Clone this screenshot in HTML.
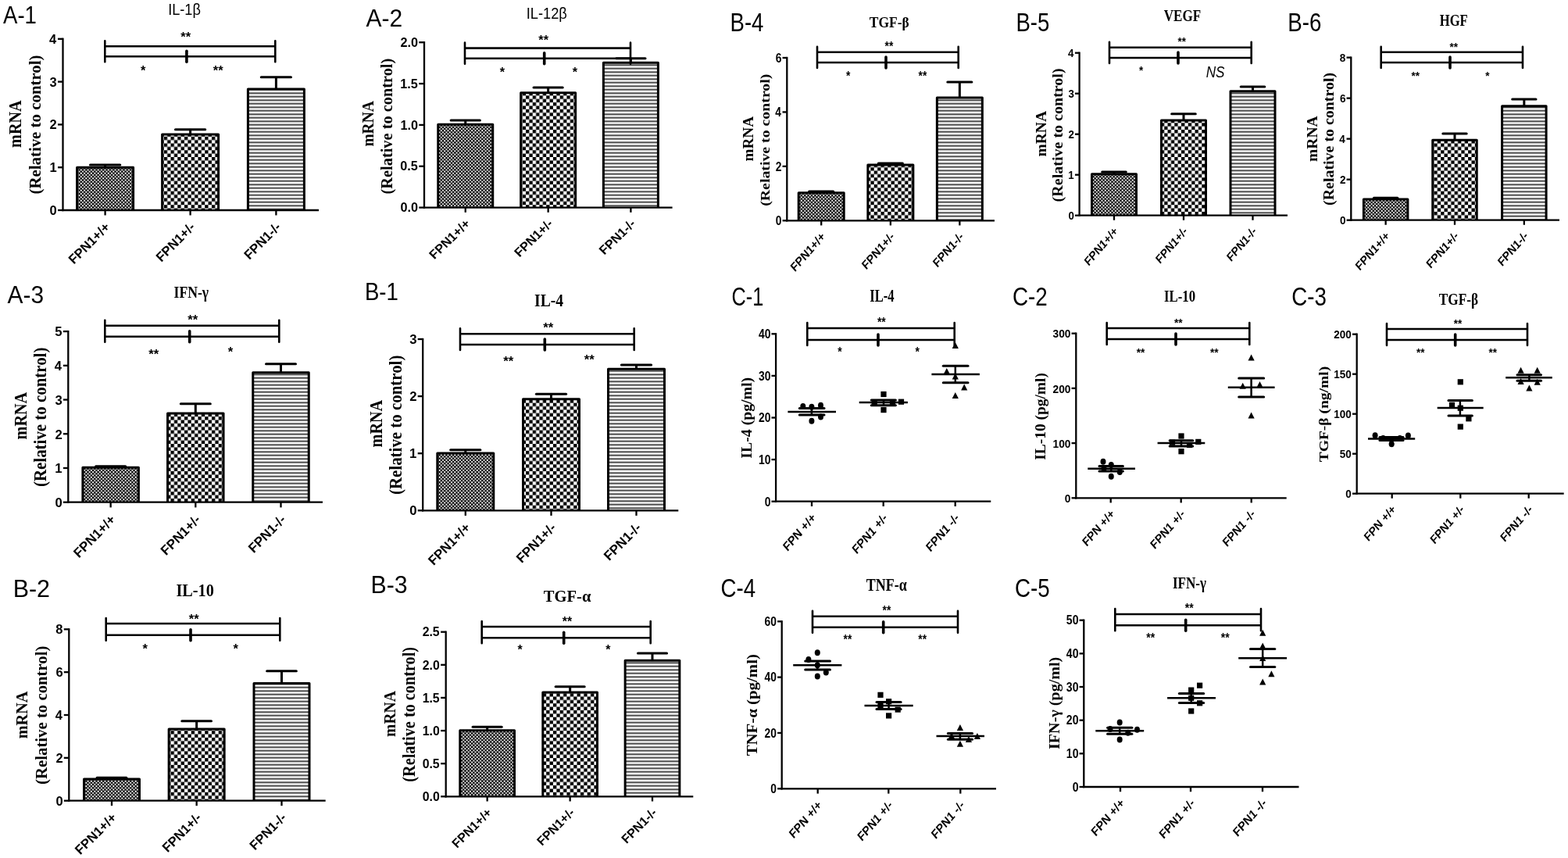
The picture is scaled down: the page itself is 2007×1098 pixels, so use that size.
<!DOCTYPE html>
<html><head><meta charset="utf-8"><title>Figure</title>
<style>html,body{margin:0;padding:0;background:#fff;width:2007px;height:1098px;overflow:hidden}svg{display:block}</style>
</head><body>
<svg width="2007" height="1098" viewBox="0 0 2007 1098"><defs>
<pattern id="pdots" patternUnits="userSpaceOnUse" width="4.37" height="4.37">
 <rect width="4.37" height="4.37" fill="#000"/>
 <circle cx="1.09" cy="1.09" r="1.1" fill="#fff"/><circle cx="3.28" cy="3.28" r="1.1" fill="#fff"/>
</pattern>
<pattern id="pcheck" patternUnits="userSpaceOnUse" width="8.74" height="8.74">
 <rect width="8.74" height="8.74" fill="#fff"/>
 <rect width="4.37" height="4.37" fill="#000"/><rect x="4.37" y="4.37" width="4.37" height="4.37" fill="#000"/>
</pattern>
<pattern id="pstripe" patternUnits="userSpaceOnUse" width="10" height="4.5">
 <rect width="10" height="4.5" fill="#fff"/>
 <rect y="1.3" width="10" height="1.9" fill="#3a3a3a"/>
</pattern>
</defs>
<text transform="translate(4.00,30.20) scale(0.8583,1)" style="font-family:'Liberation Sans',sans-serif;font-size:32.17px" fill="#000">A-1</text>
<text transform="translate(215.16,19.49) scale(0.8853,1)" style="font-family:'Liberation Sans',sans-serif;font-size:20.53px" fill="#000">IL-1β</text>
<text transform="translate(27.07,188.90) rotate(-90) scale(0.8840,1)" style="font-family:'Liberation Serif',serif;font-weight:bold;font-size:22.84px" fill="#000">mRNA</text>
<text transform="translate(51.99,248.54) rotate(-90) scale(0.9753,1)" style="font-family:'Liberation Serif',serif;font-weight:bold;font-size:21.41px" fill="#000">(Relative to control)</text>
<rect x="98.60" y="214.20" width="72.00" height="54.80" fill="url(#pdots)"/>
<path d="M98.60,269.00 L98.60,214.20 L170.60,214.20 L170.60,269.00" fill="none" stroke="#000" stroke-width="3" stroke-linejoin="round"/>
<line x1="134.60" y1="214.20" x2="134.60" y2="211.02" stroke="#000" stroke-width="3" stroke-linecap="butt"/>
<line x1="115.47" y1="211.02" x2="153.72" y2="211.02" stroke="#000" stroke-width="3" stroke-linecap="round"/>
<rect x="207.60" y="172.00" width="72.00" height="97.00" fill="url(#pcheck)"/>
<path d="M207.60,269.00 L207.60,172.00 L279.60,172.00 L279.60,269.00" fill="none" stroke="#000" stroke-width="3" stroke-linejoin="round"/>
<line x1="243.60" y1="172.00" x2="243.60" y2="165.70" stroke="#000" stroke-width="3" stroke-linecap="butt"/>
<line x1="224.47" y1="165.70" x2="262.73" y2="165.70" stroke="#000" stroke-width="3" stroke-linecap="round"/>
<rect x="317.40" y="113.92" width="72.00" height="155.08" fill="url(#pstripe)"/>
<path d="M317.40,269.00 L317.40,113.92 L389.40,113.92 L389.40,269.00" fill="none" stroke="#000" stroke-width="3" stroke-linejoin="round"/>
<line x1="353.40" y1="113.92" x2="353.40" y2="98.68" stroke="#000" stroke-width="3" stroke-linecap="butt"/>
<line x1="334.27" y1="98.68" x2="372.52" y2="98.68" stroke="#000" stroke-width="3" stroke-linecap="round"/>
<line x1="80.50" y1="48.65" x2="80.50" y2="270.15" stroke="#000" stroke-width="2.3" stroke-linecap="butt"/>
<line x1="79.35" y1="269.00" x2="408.00" y2="269.00" stroke="#000" stroke-width="2.3" stroke-linecap="butt"/>
<line x1="74.00" y1="269.00" x2="80.50" y2="269.00" stroke="#000" stroke-width="2.3" stroke-linecap="butt"/>
<text transform="translate(63.62,274.99)" style="font-family:'Liberation Sans',sans-serif;font-weight:bold;font-size:16.50px" fill="#000">0</text>
<line x1="74.00" y1="214.20" x2="80.50" y2="214.20" stroke="#000" stroke-width="2.3" stroke-linecap="butt"/>
<text transform="translate(63.45,220.19)" style="font-family:'Liberation Sans',sans-serif;font-weight:bold;font-size:16.50px" fill="#000">1</text>
<line x1="74.00" y1="159.40" x2="80.50" y2="159.40" stroke="#000" stroke-width="2.3" stroke-linecap="butt"/>
<text transform="translate(63.62,165.48)" style="font-family:'Liberation Sans',sans-serif;font-weight:bold;font-size:16.50px" fill="#000">2</text>
<line x1="74.00" y1="104.60" x2="80.50" y2="104.60" stroke="#000" stroke-width="2.3" stroke-linecap="butt"/>
<text transform="translate(63.62,110.59)" style="font-family:'Liberation Sans',sans-serif;font-weight:bold;font-size:16.50px" fill="#000">3</text>
<line x1="74.00" y1="49.80" x2="80.50" y2="49.80" stroke="#000" stroke-width="2.3" stroke-linecap="butt"/>
<text transform="translate(62.96,55.79)" style="font-family:'Liberation Sans',sans-serif;font-weight:bold;font-size:16.50px" fill="#000">4</text>
<line x1="134.60" y1="269.00" x2="134.60" y2="275.50" stroke="#000" stroke-width="2.3" stroke-linecap="butt"/>
<line x1="243.60" y1="269.00" x2="243.60" y2="275.50" stroke="#000" stroke-width="2.3" stroke-linecap="butt"/>
<line x1="353.40" y1="269.00" x2="353.40" y2="275.50" stroke="#000" stroke-width="2.3" stroke-linecap="butt"/>
<path d="M134.3,52.3 L134.3,79.3 M134.3,59.3 L352.3,59.3 M134.3,72.3 L352.3,72.3 M352.3,52.3 L352.3,79.3" stroke="#000" stroke-width="2.6" stroke-linecap="round" stroke-linejoin="round" fill="none"/>
<path d="M238.9,65.3 L238.9,79.3" stroke="#000" stroke-width="3.6" stroke-linecap="round" stroke-linejoin="round" fill="none"/>
<text transform="translate(231.27,53.15)" style="font-family:'Liberation Sans',sans-serif;font-weight:bold;font-size:16.50px" fill="#000">**</text>
<text transform="translate(180.08,96.15)" style="font-family:'Liberation Sans',sans-serif;font-weight:bold;font-size:16.50px" fill="#000">*</text>
<text transform="translate(272.77,96.15)" style="font-family:'Liberation Sans',sans-serif;font-weight:bold;font-size:16.50px" fill="#000">**</text>
<text transform="translate(94.44,338.85) rotate(-45)" style="font-family:'Liberation Sans',sans-serif;font-weight:bold;font-size:16.70px" fill="#000">FPN1+/+</text>
<text transform="translate(206.39,335.90) rotate(-45)" style="font-family:'Liberation Sans',sans-serif;font-weight:bold;font-size:16.70px" fill="#000">FPN1+/-</text>
<text transform="translate(319.15,332.93) rotate(-45)" style="font-family:'Liberation Sans',sans-serif;font-weight:bold;font-size:16.70px" fill="#000">FPN1-/-</text>
<text transform="translate(468.60,34.30) scale(0.9545,1)" style="font-family:'Liberation Sans',sans-serif;font-size:31.43px" fill="#000">A-2</text>
<text transform="translate(673.65,24.19) scale(0.8905,1)" style="font-family:'Liberation Sans',sans-serif;font-size:20.53px" fill="#000">IL-12β</text>
<text transform="translate(477.79,187.59) rotate(-90) scale(0.9048,1)" style="font-family:'Liberation Serif',serif;font-weight:bold;font-size:21.49px" fill="#000">mRNA</text>
<text transform="translate(501.96,248.41) rotate(-90) scale(0.9860,1)" style="font-family:'Liberation Serif',serif;font-weight:bold;font-size:20.65px" fill="#000">(Relative to control)</text>
<rect x="560.75" y="159.30" width="70.00" height="106.30" fill="url(#pdots)"/>
<path d="M560.75,265.60 L560.75,159.30 L630.75,159.30 L630.75,265.60" fill="none" stroke="#000" stroke-width="3" stroke-linejoin="round"/>
<line x1="595.75" y1="159.30" x2="595.75" y2="153.98" stroke="#000" stroke-width="3" stroke-linecap="butt"/>
<line x1="577.13" y1="153.98" x2="614.37" y2="153.98" stroke="#000" stroke-width="3" stroke-linecap="round"/>
<rect x="666.65" y="118.70" width="70.00" height="146.90" fill="url(#pcheck)"/>
<path d="M666.65,265.60 L666.65,118.70 L736.65,118.70 L736.65,265.60" fill="none" stroke="#000" stroke-width="3" stroke-linejoin="round"/>
<line x1="701.65" y1="118.70" x2="701.65" y2="112.00" stroke="#000" stroke-width="3" stroke-linecap="butt"/>
<line x1="683.03" y1="112.00" x2="720.26" y2="112.00" stroke="#000" stroke-width="3" stroke-linecap="round"/>
<rect x="772.40" y="80.32" width="70.00" height="185.28" fill="url(#pstripe)"/>
<path d="M772.40,265.60 L772.40,80.32 L842.40,80.32 L842.40,265.60" fill="none" stroke="#000" stroke-width="3" stroke-linejoin="round"/>
<line x1="807.40" y1="80.32" x2="807.40" y2="74.79" stroke="#000" stroke-width="3" stroke-linecap="butt"/>
<line x1="788.78" y1="74.79" x2="826.01" y2="74.79" stroke="#000" stroke-width="3" stroke-linecap="round"/>
<line x1="543.00" y1="53.05" x2="543.00" y2="266.75" stroke="#000" stroke-width="2.3" stroke-linecap="butt"/>
<line x1="541.85" y1="265.60" x2="860.60" y2="265.60" stroke="#000" stroke-width="2.3" stroke-linecap="butt"/>
<line x1="536.30" y1="265.60" x2="543.00" y2="265.60" stroke="#000" stroke-width="2.3" stroke-linecap="butt"/>
<text transform="translate(512.41,271.34) scale(1.0300,1)" style="font-family:'Liberation Sans',sans-serif;font-weight:bold;font-size:15.81px" fill="#000">0.0</text>
<line x1="536.30" y1="212.75" x2="543.00" y2="212.75" stroke="#000" stroke-width="2.3" stroke-linecap="butt"/>
<text transform="translate(512.24,218.49) scale(1.0300,1)" style="font-family:'Liberation Sans',sans-serif;font-weight:bold;font-size:15.81px" fill="#000">0.5</text>
<line x1="536.30" y1="159.90" x2="543.00" y2="159.90" stroke="#000" stroke-width="2.3" stroke-linecap="butt"/>
<text transform="translate(512.41,165.64) scale(1.0300,1)" style="font-family:'Liberation Sans',sans-serif;font-weight:bold;font-size:15.81px" fill="#000">1.0</text>
<line x1="536.30" y1="107.05" x2="543.00" y2="107.05" stroke="#000" stroke-width="2.3" stroke-linecap="butt"/>
<text transform="translate(512.24,112.71) scale(1.0300,1)" style="font-family:'Liberation Sans',sans-serif;font-weight:bold;font-size:15.81px" fill="#000">1.5</text>
<line x1="536.30" y1="54.20" x2="543.00" y2="54.20" stroke="#000" stroke-width="2.3" stroke-linecap="butt"/>
<text transform="translate(512.41,59.94) scale(1.0300,1)" style="font-family:'Liberation Sans',sans-serif;font-weight:bold;font-size:15.81px" fill="#000">2.0</text>
<line x1="595.75" y1="265.60" x2="595.75" y2="271.83" stroke="#000" stroke-width="2.3" stroke-linecap="butt"/>
<line x1="701.65" y1="265.60" x2="701.65" y2="271.83" stroke="#000" stroke-width="2.3" stroke-linecap="butt"/>
<line x1="807.40" y1="265.60" x2="807.40" y2="271.83" stroke="#000" stroke-width="2.3" stroke-linecap="butt"/>
<path d="M595,54.6 L595,81.8 M595,61.6 L807,61.6 M595,74.8 L807,74.8 M807,54.6 L807,81.8" stroke="#000" stroke-width="2.6" stroke-linecap="round" stroke-linejoin="round" fill="none"/>
<path d="M696.7,67.8 L696.7,81.8" stroke="#000" stroke-width="3.6" stroke-linecap="round" stroke-linejoin="round" fill="none"/>
<text transform="translate(689.36,56.90) scale(1.0300,1)" style="font-family:'Liberation Sans',sans-serif;font-weight:bold;font-size:15.81px" fill="#000">**</text>
<text transform="translate(639.83,97.90) scale(1.0300,1)" style="font-family:'Liberation Sans',sans-serif;font-weight:bold;font-size:15.81px" fill="#000">*</text>
<text transform="translate(732.83,97.90) scale(1.0300,1)" style="font-family:'Liberation Sans',sans-serif;font-weight:bold;font-size:15.81px" fill="#000">*</text>
<text transform="translate(556.12,332.51) scale(1.0300,1) rotate(-45)" style="font-family:'Liberation Sans',sans-serif;font-weight:bold;font-size:16.00px" fill="#000">FPN1+/+</text>
<text transform="translate(664.93,329.69) scale(1.0300,1) rotate(-45)" style="font-family:'Liberation Sans',sans-serif;font-weight:bold;font-size:16.00px" fill="#000">FPN1+/-</text>
<text transform="translate(773.61,326.85) scale(1.0300,1) rotate(-45)" style="font-family:'Liberation Sans',sans-serif;font-weight:bold;font-size:16.00px" fill="#000">FPN1-/-</text>
<text transform="translate(934.49,40.40) scale(0.8288,1)" style="font-family:'Liberation Sans',sans-serif;font-size:33.29px" fill="#000">B-4</text>
<text transform="translate(1112.73,35.37) scale(0.8883,1)" style="font-family:'Liberation Serif',serif;font-weight:bold;font-size:19.67px" fill="#000">TGF-β</text>
<text transform="translate(964.02,206.58) rotate(-90) scale(1.0483,1)" style="font-family:'Liberation Serif',serif;font-weight:bold;font-size:18.36px" fill="#000">mRNA</text>
<text transform="translate(984.90,263.79) rotate(-90) scale(1.1187,1)" style="font-family:'Liberation Serif',serif;font-weight:bold;font-size:17.72px" fill="#000">(Relative to control)</text>
<rect x="1022.20" y="246.71" width="58.00" height="35.59" fill="url(#pdots)"/>
<path d="M1022.20,282.30 L1022.20,246.71 L1080.20,246.71 L1080.20,282.30" fill="none" stroke="#000" stroke-width="3" stroke-linejoin="round"/>
<line x1="1051.20" y1="246.71" x2="1051.20" y2="245.01" stroke="#000" stroke-width="3" stroke-linecap="butt"/>
<line x1="1035.64" y1="245.01" x2="1066.76" y2="245.01" stroke="#000" stroke-width="3" stroke-linecap="round"/>
<rect x="1110.85" y="210.99" width="58.00" height="71.31" fill="url(#pcheck)"/>
<path d="M1110.85,282.30 L1110.85,210.99 L1168.85,210.99 L1168.85,282.30" fill="none" stroke="#000" stroke-width="3" stroke-linejoin="round"/>
<line x1="1139.85" y1="210.99" x2="1139.85" y2="209.04" stroke="#000" stroke-width="3" stroke-linecap="butt"/>
<line x1="1124.29" y1="209.04" x2="1155.40" y2="209.04" stroke="#000" stroke-width="3" stroke-linecap="round"/>
<rect x="1199.35" y="125.02" width="58.00" height="157.28" fill="url(#pstripe)"/>
<path d="M1199.35,282.30 L1199.35,125.02 L1257.35,125.02 L1257.35,282.30" fill="none" stroke="#000" stroke-width="3" stroke-linejoin="round"/>
<line x1="1228.35" y1="125.02" x2="1228.35" y2="104.98" stroke="#000" stroke-width="3" stroke-linecap="butt"/>
<line x1="1212.79" y1="104.98" x2="1243.90" y2="104.98" stroke="#000" stroke-width="3" stroke-linecap="round"/>
<line x1="1007.30" y1="72.83" x2="1007.30" y2="283.45" stroke="#000" stroke-width="2.3" stroke-linecap="butt"/>
<line x1="1006.15" y1="282.30" x2="1273.00" y2="282.30" stroke="#000" stroke-width="2.3" stroke-linecap="butt"/>
<line x1="1001.55" y1="282.30" x2="1007.30" y2="282.30" stroke="#000" stroke-width="2.3" stroke-linecap="butt"/>
<text transform="translate(992.77,287.98) scale(0.8840,1)" style="font-family:'Liberation Sans',sans-serif;font-weight:bold;font-size:15.64px" fill="#000">0</text>
<line x1="1001.55" y1="212.86" x2="1007.30" y2="212.86" stroke="#000" stroke-width="2.3" stroke-linecap="butt"/>
<text transform="translate(992.77,218.62) scale(0.8840,1)" style="font-family:'Liberation Sans',sans-serif;font-weight:bold;font-size:15.64px" fill="#000">2</text>
<line x1="1001.55" y1="143.42" x2="1007.30" y2="143.42" stroke="#000" stroke-width="2.3" stroke-linecap="butt"/>
<text transform="translate(992.22,149.10) scale(0.8840,1)" style="font-family:'Liberation Sans',sans-serif;font-weight:bold;font-size:15.64px" fill="#000">4</text>
<line x1="1001.55" y1="73.98" x2="1007.30" y2="73.98" stroke="#000" stroke-width="2.3" stroke-linecap="butt"/>
<text transform="translate(992.77,79.66) scale(0.8840,1)" style="font-family:'Liberation Sans',sans-serif;font-weight:bold;font-size:15.64px" fill="#000">6</text>
<line x1="1051.20" y1="282.30" x2="1051.20" y2="288.46" stroke="#000" stroke-width="2.3" stroke-linecap="butt"/>
<line x1="1139.85" y1="282.30" x2="1139.85" y2="288.46" stroke="#000" stroke-width="2.3" stroke-linecap="butt"/>
<line x1="1228.35" y1="282.30" x2="1228.35" y2="288.46" stroke="#000" stroke-width="2.3" stroke-linecap="butt"/>
<path d="M1046,59.7 L1046,87 M1046,66.7 L1226.7,66.7 M1046,80 L1226.7,80 M1226.7,59.7 L1226.7,87" stroke="#000" stroke-width="2.6" stroke-linecap="round" stroke-linejoin="round" fill="none"/>
<path d="M1134,73 L1134,87" stroke="#000" stroke-width="3.6" stroke-linecap="round" stroke-linejoin="round" fill="none"/>
<text transform="translate(1132.61,64.82) scale(0.8840,1)" style="font-family:'Liberation Sans',sans-serif;font-weight:bold;font-size:15.64px" fill="#000">**</text>
<text transform="translate(1083.00,102.82) scale(0.8840,1)" style="font-family:'Liberation Sans',sans-serif;font-weight:bold;font-size:15.64px" fill="#000">*</text>
<text transform="translate(1175.61,102.82) scale(0.8840,1)" style="font-family:'Liberation Sans',sans-serif;font-weight:bold;font-size:15.64px" fill="#000">**</text>
<text transform="translate(1017.54,348.52) scale(0.8840,1) rotate(-45)" style="font-family:'Liberation Sans',sans-serif;font-weight:bold;font-size:15.83px" fill="#000">FPN1+/+</text>
<text transform="translate(1108.66,345.72) scale(0.8840,1) rotate(-45)" style="font-family:'Liberation Sans',sans-serif;font-weight:bold;font-size:15.83px" fill="#000">FPN1+/-</text>
<text transform="translate(1199.65,342.91) scale(0.8840,1) rotate(-45)" style="font-family:'Liberation Sans',sans-serif;font-weight:bold;font-size:15.83px" fill="#000">FPN1-/-</text>
<text transform="translate(1300.49,40.27) scale(0.8283,1)" style="font-family:'Liberation Sans',sans-serif;font-size:33.29px" fill="#000">B-5</text>
<text transform="translate(1489.73,26.86) scale(0.7851,1)" style="font-family:'Liberation Serif',serif;font-weight:bold;font-size:21.76px" fill="#000">VEGF</text>
<text transform="translate(1339.10,200.59) rotate(-90) scale(0.9922,1)" style="font-family:'Liberation Serif',serif;font-weight:bold;font-size:19.70px" fill="#000">mRNA</text>
<text transform="translate(1360.19,258.40) rotate(-90) scale(1.0722,1)" style="font-family:'Liberation Serif',serif;font-weight:bold;font-size:18.70px" fill="#000">(Relative to control)</text>
<rect x="1397.50" y="222.71" width="57.00" height="52.99" fill="url(#pdots)"/>
<path d="M1397.50,275.70 L1397.50,222.71 L1454.50,222.71 L1454.50,275.70" fill="none" stroke="#000" stroke-width="3" stroke-linejoin="round"/>
<line x1="1426.00" y1="222.71" x2="1426.00" y2="220.01" stroke="#000" stroke-width="3" stroke-linecap="butt"/>
<line x1="1410.70" y1="220.01" x2="1441.30" y2="220.01" stroke="#000" stroke-width="3" stroke-linecap="round"/>
<rect x="1486.50" y="154.02" width="57.00" height="121.68" fill="url(#pcheck)"/>
<path d="M1486.50,275.70 L1486.50,154.02 L1543.50,154.02 L1543.50,275.70" fill="none" stroke="#000" stroke-width="3" stroke-linejoin="round"/>
<line x1="1515.00" y1="154.02" x2="1515.00" y2="145.70" stroke="#000" stroke-width="3" stroke-linecap="butt"/>
<line x1="1499.70" y1="145.70" x2="1530.30" y2="145.70" stroke="#000" stroke-width="3" stroke-linecap="round"/>
<rect x="1575.00" y="116.68" width="57.00" height="159.02" fill="url(#pstripe)"/>
<path d="M1575.00,275.70 L1575.00,116.68 L1632.00,116.68 L1632.00,275.70" fill="none" stroke="#000" stroke-width="3" stroke-linejoin="round"/>
<line x1="1603.50" y1="116.68" x2="1603.50" y2="111.02" stroke="#000" stroke-width="3" stroke-linecap="butt"/>
<line x1="1588.20" y1="111.02" x2="1618.80" y2="111.02" stroke="#000" stroke-width="3" stroke-linecap="round"/>
<line x1="1381.60" y1="66.55" x2="1381.60" y2="276.85" stroke="#000" stroke-width="2.3" stroke-linecap="butt"/>
<line x1="1380.45" y1="275.70" x2="1648.00" y2="275.70" stroke="#000" stroke-width="2.3" stroke-linecap="butt"/>
<line x1="1375.96" y1="275.70" x2="1381.60" y2="275.70" stroke="#000" stroke-width="2.3" stroke-linecap="butt"/>
<text transform="translate(1367.46,281.30) scale(0.8670,1)" style="font-family:'Liberation Sans',sans-serif;font-weight:bold;font-size:15.41px" fill="#000">0</text>
<line x1="1375.96" y1="223.70" x2="1381.60" y2="223.70" stroke="#000" stroke-width="2.3" stroke-linecap="butt"/>
<text transform="translate(1367.32,229.30) scale(0.8670,1)" style="font-family:'Liberation Sans',sans-serif;font-weight:bold;font-size:15.41px" fill="#000">1</text>
<line x1="1375.96" y1="171.70" x2="1381.60" y2="171.70" stroke="#000" stroke-width="2.3" stroke-linecap="butt"/>
<text transform="translate(1367.46,177.37) scale(0.8670,1)" style="font-family:'Liberation Sans',sans-serif;font-weight:bold;font-size:15.41px" fill="#000">2</text>
<line x1="1375.96" y1="119.70" x2="1381.60" y2="119.70" stroke="#000" stroke-width="2.3" stroke-linecap="butt"/>
<text transform="translate(1367.46,125.30) scale(0.8670,1)" style="font-family:'Liberation Sans',sans-serif;font-weight:bold;font-size:15.41px" fill="#000">3</text>
<line x1="1375.96" y1="67.70" x2="1381.60" y2="67.70" stroke="#000" stroke-width="2.3" stroke-linecap="butt"/>
<text transform="translate(1366.92,73.30) scale(0.8670,1)" style="font-family:'Liberation Sans',sans-serif;font-weight:bold;font-size:15.41px" fill="#000">4</text>
<line x1="1426.00" y1="275.70" x2="1426.00" y2="281.77" stroke="#000" stroke-width="2.3" stroke-linecap="butt"/>
<line x1="1515.00" y1="275.70" x2="1515.00" y2="281.77" stroke="#000" stroke-width="2.3" stroke-linecap="butt"/>
<line x1="1603.50" y1="275.70" x2="1603.50" y2="281.77" stroke="#000" stroke-width="2.3" stroke-linecap="butt"/>
<path d="M1420,53.7 L1420,81 M1420,60.7 L1601.7,60.7 M1420,74 L1601.7,74 M1601.7,53.7 L1601.7,81" stroke="#000" stroke-width="2.6" stroke-linecap="round" stroke-linejoin="round" fill="none"/>
<path d="M1508,67 L1508,81" stroke="#000" stroke-width="3.6" stroke-linecap="round" stroke-linejoin="round" fill="none"/>
<text transform="translate(1507.49,58.41) scale(0.8670,1)" style="font-family:'Liberation Sans',sans-serif;font-weight:bold;font-size:15.41px" fill="#000">**</text>
<text transform="translate(1458.09,95.41) scale(0.8670,1)" style="font-family:'Liberation Sans',sans-serif;font-weight:bold;font-size:15.41px" fill="#000">*</text>
<text transform="translate(1543.69,98.50) scale(0.8404,1)" style="font-family:'Liberation Sans',sans-serif;font-style:italic;font-size:20.42px" fill="#000">NS</text>
<text transform="translate(1393.48,340.94) scale(0.8670,1) rotate(-45)" style="font-family:'Liberation Sans',sans-serif;font-weight:bold;font-size:15.60px" fill="#000">FPN1+/+</text>
<text transform="translate(1484.87,338.18) scale(0.8670,1) rotate(-45)" style="font-family:'Liberation Sans',sans-serif;font-weight:bold;font-size:15.60px" fill="#000">FPN1+/-</text>
<text transform="translate(1575.77,335.41) scale(0.8670,1) rotate(-45)" style="font-family:'Liberation Sans',sans-serif;font-weight:bold;font-size:15.60px" fill="#000">FPN1-/-</text>
<text transform="translate(1648.28,40.47) scale(0.8322,1)" style="font-family:'Liberation Sans',sans-serif;font-size:33.38px" fill="#000">B-6</text>
<text transform="translate(1842.73,33.16) scale(0.7593,1)" style="font-family:'Liberation Serif',serif;font-weight:bold;font-size:21.91px" fill="#000">HGF</text>
<text transform="translate(1686.11,206.89) rotate(-90) scale(1.0544,1)" style="font-family:'Liberation Serif',serif;font-weight:bold;font-size:18.51px" fill="#000">mRNA</text>
<text transform="translate(1706.96,262.90) rotate(-90) scale(1.0847,1)" style="font-family:'Liberation Serif',serif;font-weight:bold;font-size:18.37px" fill="#000">(Relative to control)</text>
<rect x="1745.40" y="255.00" width="56.50" height="26.70" fill="url(#pdots)"/>
<path d="M1745.40,281.70 L1745.40,255.00 L1801.90,255.00 L1801.90,281.70" fill="none" stroke="#000" stroke-width="3" stroke-linejoin="round"/>
<line x1="1773.65" y1="255.00" x2="1773.65" y2="253.30" stroke="#000" stroke-width="3" stroke-linecap="butt"/>
<line x1="1758.48" y1="253.30" x2="1788.82" y2="253.30" stroke="#000" stroke-width="3" stroke-linecap="round"/>
<rect x="1833.75" y="179.29" width="56.50" height="102.41" fill="url(#pcheck)"/>
<path d="M1833.75,281.70 L1833.75,179.29 L1890.25,179.29 L1890.25,281.70" fill="none" stroke="#000" stroke-width="3" stroke-linejoin="round"/>
<line x1="1862.00" y1="179.29" x2="1862.00" y2="171.01" stroke="#000" stroke-width="3" stroke-linecap="butt"/>
<line x1="1846.83" y1="171.01" x2="1877.17" y2="171.01" stroke="#000" stroke-width="3" stroke-linecap="round"/>
<rect x="1922.60" y="135.66" width="56.50" height="146.04" fill="url(#pstripe)"/>
<path d="M1922.60,281.70 L1922.60,135.66 L1979.10,135.66 L1979.10,281.70" fill="none" stroke="#000" stroke-width="3" stroke-linejoin="round"/>
<line x1="1950.85" y1="135.66" x2="1950.85" y2="127.04" stroke="#000" stroke-width="3" stroke-linecap="butt"/>
<line x1="1935.68" y1="127.04" x2="1966.02" y2="127.04" stroke="#000" stroke-width="3" stroke-linecap="round"/>
<line x1="1729.30" y1="72.47" x2="1729.30" y2="282.85" stroke="#000" stroke-width="2.3" stroke-linecap="butt"/>
<line x1="1728.15" y1="281.70" x2="1996.00" y2="281.70" stroke="#000" stroke-width="2.3" stroke-linecap="butt"/>
<line x1="1723.57" y1="281.70" x2="1729.30" y2="281.70" stroke="#000" stroke-width="2.3" stroke-linecap="butt"/>
<text transform="translate(1714.91,287.30) scale(0.8820,1)" style="font-family:'Liberation Sans',sans-serif;font-weight:bold;font-size:15.41px" fill="#000">0</text>
<line x1="1723.57" y1="229.68" x2="1729.30" y2="229.68" stroke="#000" stroke-width="2.3" stroke-linecap="butt"/>
<text transform="translate(1714.91,235.35) scale(0.8820,1)" style="font-family:'Liberation Sans',sans-serif;font-weight:bold;font-size:15.41px" fill="#000">2</text>
<line x1="1723.57" y1="177.66" x2="1729.30" y2="177.66" stroke="#000" stroke-width="2.3" stroke-linecap="butt"/>
<text transform="translate(1714.37,183.26) scale(0.8820,1)" style="font-family:'Liberation Sans',sans-serif;font-weight:bold;font-size:15.41px" fill="#000">4</text>
<line x1="1723.57" y1="125.64" x2="1729.30" y2="125.64" stroke="#000" stroke-width="2.3" stroke-linecap="butt"/>
<text transform="translate(1714.91,131.24) scale(0.8820,1)" style="font-family:'Liberation Sans',sans-serif;font-weight:bold;font-size:15.41px" fill="#000">6</text>
<line x1="1723.57" y1="73.62" x2="1729.30" y2="73.62" stroke="#000" stroke-width="2.3" stroke-linecap="butt"/>
<text transform="translate(1714.78,79.22) scale(0.8820,1)" style="font-family:'Liberation Sans',sans-serif;font-weight:bold;font-size:15.41px" fill="#000">8</text>
<line x1="1773.65" y1="281.70" x2="1773.65" y2="287.77" stroke="#000" stroke-width="2.3" stroke-linecap="butt"/>
<line x1="1862.00" y1="281.70" x2="1862.00" y2="287.77" stroke="#000" stroke-width="2.3" stroke-linecap="butt"/>
<line x1="1950.85" y1="281.70" x2="1950.85" y2="287.77" stroke="#000" stroke-width="2.3" stroke-linecap="butt"/>
<path d="M1767.7,59.7 L1767.7,87 M1767.7,66.7 L1949,66.7 M1767.7,80 L1949,80 M1949,59.7 L1949,87" stroke="#000" stroke-width="2.6" stroke-linecap="round" stroke-linejoin="round" fill="none"/>
<path d="M1856,73 L1856,87" stroke="#000" stroke-width="3.6" stroke-linecap="round" stroke-linejoin="round" fill="none"/>
<text transform="translate(1855.40,65.01) scale(0.8820,1)" style="font-family:'Liberation Sans',sans-serif;font-weight:bold;font-size:15.41px" fill="#000">**</text>
<text transform="translate(1806.40,101.71) scale(0.8820,1)" style="font-family:'Liberation Sans',sans-serif;font-weight:bold;font-size:15.41px" fill="#000">**</text>
<text transform="translate(1901.35,101.71) scale(0.8820,1)" style="font-family:'Liberation Sans',sans-serif;font-weight:bold;font-size:15.41px" fill="#000">*</text>
<text transform="translate(1740.56,346.94) scale(0.8820,1) rotate(-45)" style="font-family:'Liberation Sans',sans-serif;font-weight:bold;font-size:15.60px" fill="#000">FPN1+/+</text>
<text transform="translate(1831.35,344.18) scale(0.8820,1) rotate(-45)" style="font-family:'Liberation Sans',sans-serif;font-weight:bold;font-size:15.60px" fill="#000">FPN1+/-</text>
<text transform="translate(1922.64,341.41) scale(0.8820,1) rotate(-45)" style="font-family:'Liberation Sans',sans-serif;font-weight:bold;font-size:15.60px" fill="#000">FPN1-/-</text>
<text transform="translate(9.60,388.29) scale(0.9574,1)" style="font-family:'Liberation Sans',sans-serif;font-size:31.27px" fill="#000">A-3</text>
<text transform="translate(222.57,381.08) scale(0.8212,1)" style="font-family:'Liberation Serif',serif;font-weight:bold;font-size:21.51px" fill="#000">IFN-γ</text>
<text transform="translate(33.88,562.40) rotate(-90) scale(0.9016,1)" style="font-family:'Liberation Serif',serif;font-weight:bold;font-size:22.39px" fill="#000">mRNA</text>
<text transform="translate(58.53,622.94) rotate(-90) scale(0.8900,1)" style="font-family:'Liberation Serif',serif;font-weight:bold;font-size:23.48px" fill="#000">(Relative to control)</text>
<rect x="105.90" y="598.29" width="71.50" height="44.41" fill="url(#pdots)"/>
<path d="M105.90,642.70 L105.90,598.29 L177.40,598.29 L177.40,642.70" fill="none" stroke="#000" stroke-width="3" stroke-linejoin="round"/>
<line x1="141.65" y1="598.29" x2="141.65" y2="596.72" stroke="#000" stroke-width="3" stroke-linecap="butt"/>
<line x1="122.65" y1="596.72" x2="160.65" y2="596.72" stroke="#000" stroke-width="3" stroke-linecap="round"/>
<rect x="214.55" y="529.05" width="71.50" height="113.65" fill="url(#pcheck)"/>
<path d="M214.55,642.70 L214.55,529.05 L286.05,529.05 L286.05,642.70" fill="none" stroke="#000" stroke-width="3" stroke-linejoin="round"/>
<line x1="250.30" y1="529.05" x2="250.30" y2="516.76" stroke="#000" stroke-width="3" stroke-linecap="butt"/>
<line x1="231.30" y1="516.76" x2="269.30" y2="516.76" stroke="#000" stroke-width="3" stroke-linecap="round"/>
<rect x="323.75" y="476.84" width="71.50" height="165.86" fill="url(#pstripe)"/>
<path d="M323.75,642.70 L323.75,476.84 L395.25,476.84 L395.25,642.70" fill="none" stroke="#000" stroke-width="3" stroke-linejoin="round"/>
<line x1="359.50" y1="476.84" x2="359.50" y2="465.87" stroke="#000" stroke-width="3" stroke-linecap="butt"/>
<line x1="340.50" y1="465.87" x2="378.50" y2="465.87" stroke="#000" stroke-width="3" stroke-linecap="round"/>
<line x1="87.30" y1="422.95" x2="87.30" y2="643.85" stroke="#000" stroke-width="2.3" stroke-linecap="butt"/>
<line x1="86.15" y1="642.70" x2="413.00" y2="642.70" stroke="#000" stroke-width="2.3" stroke-linecap="butt"/>
<line x1="80.91" y1="642.70" x2="87.30" y2="642.70" stroke="#000" stroke-width="2.3" stroke-linecap="butt"/>
<text transform="translate(70.45,648.87) scale(0.9830,1)" style="font-family:'Liberation Sans',sans-serif;font-weight:bold;font-size:17.00px" fill="#000">0</text>
<line x1="80.91" y1="598.98" x2="87.30" y2="598.98" stroke="#000" stroke-width="2.3" stroke-linecap="butt"/>
<text transform="translate(70.29,605.15) scale(0.9830,1)" style="font-family:'Liberation Sans',sans-serif;font-weight:bold;font-size:17.00px" fill="#000">1</text>
<line x1="80.91" y1="555.26" x2="87.30" y2="555.26" stroke="#000" stroke-width="2.3" stroke-linecap="butt"/>
<text transform="translate(70.45,561.52) scale(0.9830,1)" style="font-family:'Liberation Sans',sans-serif;font-weight:bold;font-size:17.00px" fill="#000">2</text>
<line x1="80.91" y1="511.54" x2="87.30" y2="511.54" stroke="#000" stroke-width="2.3" stroke-linecap="butt"/>
<text transform="translate(70.45,517.71) scale(0.9830,1)" style="font-family:'Liberation Sans',sans-serif;font-weight:bold;font-size:17.00px" fill="#000">3</text>
<line x1="80.91" y1="467.82" x2="87.30" y2="467.82" stroke="#000" stroke-width="2.3" stroke-linecap="butt"/>
<text transform="translate(69.79,473.99) scale(0.9830,1)" style="font-family:'Liberation Sans',sans-serif;font-weight:bold;font-size:17.00px" fill="#000">4</text>
<line x1="80.91" y1="424.10" x2="87.30" y2="424.10" stroke="#000" stroke-width="2.3" stroke-linecap="butt"/>
<text transform="translate(70.29,430.19) scale(0.9830,1)" style="font-family:'Liberation Sans',sans-serif;font-weight:bold;font-size:17.00px" fill="#000">5</text>
<line x1="141.65" y1="642.70" x2="141.65" y2="649.40" stroke="#000" stroke-width="2.3" stroke-linecap="butt"/>
<line x1="250.30" y1="642.70" x2="250.30" y2="649.40" stroke="#000" stroke-width="2.3" stroke-linecap="butt"/>
<line x1="359.50" y1="642.70" x2="359.50" y2="649.40" stroke="#000" stroke-width="2.3" stroke-linecap="butt"/>
<path d="M134.3,409.7 L134.3,437.7 M134.3,416.7 L357.3,416.7 M134.3,430.7 L357.3,430.7 M357.3,409.7 L357.3,437.7" stroke="#000" stroke-width="2.6" stroke-linecap="round" stroke-linejoin="round" fill="none"/>
<path d="M242.7,423.7 L242.7,437.7" stroke="#000" stroke-width="3.6" stroke-linecap="round" stroke-linejoin="round" fill="none"/>
<text transform="translate(240.19,415.20) scale(0.9830,1)" style="font-family:'Liberation Sans',sans-serif;font-weight:bold;font-size:17.00px" fill="#000">**</text>
<text transform="translate(190.19,458.50) scale(0.9830,1)" style="font-family:'Liberation Sans',sans-serif;font-weight:bold;font-size:17.00px" fill="#000">**</text>
<text transform="translate(291.74,455.80) scale(0.9830,1)" style="font-family:'Liberation Sans',sans-serif;font-weight:bold;font-size:17.00px" fill="#000">*</text>
<text transform="translate(100.98,714.64) scale(0.9830,1) rotate(-45)" style="font-family:'Liberation Sans',sans-serif;font-weight:bold;font-size:17.20px" fill="#000">FPN1+/+</text>
<text transform="translate(212.62,711.60) scale(0.9830,1) rotate(-45)" style="font-family:'Liberation Sans',sans-serif;font-weight:bold;font-size:17.20px" fill="#000">FPN1+/-</text>
<text transform="translate(324.82,708.55) scale(0.9830,1) rotate(-45)" style="font-family:'Liberation Sans',sans-serif;font-weight:bold;font-size:17.20px" fill="#000">FPN1-/-</text>
<text transform="translate(466.89,383.60) scale(0.8663,1)" style="font-family:'Liberation Sans',sans-serif;font-size:31.88px" fill="#000">B-1</text>
<text transform="translate(684.01,391.87) scale(0.8719,1)" style="font-family:'Liberation Serif',serif;font-weight:bold;font-size:22.58px" fill="#000">IL-4</text>
<text transform="translate(489.08,572.40) rotate(-90) scale(0.9138,1)" style="font-family:'Liberation Serif',serif;font-weight:bold;font-size:22.09px" fill="#000">mRNA</text>
<text transform="translate(513.53,632.94) rotate(-90) scale(0.8900,1)" style="font-family:'Liberation Serif',serif;font-weight:bold;font-size:23.48px" fill="#000">(Relative to control)</text>
<rect x="559.80" y="579.98" width="72.00" height="73.32" fill="url(#pdots)"/>
<path d="M559.80,653.30 L559.80,579.98 L631.80,579.98 L631.80,653.30" fill="none" stroke="#000" stroke-width="3" stroke-linejoin="round"/>
<line x1="595.80" y1="579.98" x2="595.80" y2="575.81" stroke="#000" stroke-width="3" stroke-linecap="butt"/>
<line x1="576.67" y1="575.81" x2="614.92" y2="575.81" stroke="#000" stroke-width="3" stroke-linecap="round"/>
<rect x="669.50" y="510.75" width="72.00" height="142.54" fill="url(#pcheck)"/>
<path d="M669.50,653.30 L669.50,510.75 L741.50,510.75 L741.50,653.30" fill="none" stroke="#000" stroke-width="3" stroke-linejoin="round"/>
<line x1="705.50" y1="510.75" x2="705.50" y2="504.18" stroke="#000" stroke-width="3" stroke-linecap="butt"/>
<line x1="686.38" y1="504.18" x2="724.62" y2="504.18" stroke="#000" stroke-width="3" stroke-linecap="round"/>
<rect x="778.50" y="472.30" width="72.00" height="181.00" fill="url(#pstripe)"/>
<path d="M778.50,653.30 L778.50,472.30 L850.50,472.30 L850.50,653.30" fill="none" stroke="#000" stroke-width="3" stroke-linejoin="round"/>
<line x1="814.50" y1="472.30" x2="814.50" y2="466.89" stroke="#000" stroke-width="3" stroke-linecap="butt"/>
<line x1="795.38" y1="466.89" x2="833.62" y2="466.89" stroke="#000" stroke-width="3" stroke-linecap="round"/>
<line x1="541.20" y1="432.85" x2="541.20" y2="654.45" stroke="#000" stroke-width="2.3" stroke-linecap="butt"/>
<line x1="540.05" y1="653.30" x2="868.30" y2="653.30" stroke="#000" stroke-width="2.3" stroke-linecap="butt"/>
<line x1="534.70" y1="653.30" x2="541.20" y2="653.30" stroke="#000" stroke-width="2.3" stroke-linecap="butt"/>
<text transform="translate(524.18,659.39)" style="font-family:'Liberation Sans',sans-serif;font-weight:bold;font-size:16.76px" fill="#000">0</text>
<line x1="534.70" y1="580.20" x2="541.20" y2="580.20" stroke="#000" stroke-width="2.3" stroke-linecap="butt"/>
<text transform="translate(524.02,586.29)" style="font-family:'Liberation Sans',sans-serif;font-weight:bold;font-size:16.76px" fill="#000">1</text>
<line x1="534.70" y1="507.10" x2="541.20" y2="507.10" stroke="#000" stroke-width="2.3" stroke-linecap="butt"/>
<text transform="translate(524.18,513.27)" style="font-family:'Liberation Sans',sans-serif;font-weight:bold;font-size:16.76px" fill="#000">2</text>
<line x1="534.70" y1="434.00" x2="541.20" y2="434.00" stroke="#000" stroke-width="2.3" stroke-linecap="butt"/>
<text transform="translate(524.18,440.09)" style="font-family:'Liberation Sans',sans-serif;font-weight:bold;font-size:16.76px" fill="#000">3</text>
<line x1="595.80" y1="653.30" x2="595.80" y2="659.90" stroke="#000" stroke-width="2.3" stroke-linecap="butt"/>
<line x1="705.50" y1="653.30" x2="705.50" y2="659.90" stroke="#000" stroke-width="2.3" stroke-linecap="butt"/>
<line x1="814.50" y1="653.30" x2="814.50" y2="659.90" stroke="#000" stroke-width="2.3" stroke-linecap="butt"/>
<path d="M589,420.3 L589,448 M589,427.3 L811.7,427.3 M589,441 L811.7,441 M811.7,420.3 L811.7,448" stroke="#000" stroke-width="2.6" stroke-linecap="round" stroke-linejoin="round" fill="none"/>
<path d="M697.3,434 L697.3,448" stroke="#000" stroke-width="3.6" stroke-linecap="round" stroke-linejoin="round" fill="none"/>
<text transform="translate(695.17,425.08)" style="font-family:'Liberation Sans',sans-serif;font-weight:bold;font-size:16.76px" fill="#000">**</text>
<text transform="translate(644.17,467.68)" style="font-family:'Liberation Sans',sans-serif;font-weight:bold;font-size:16.76px" fill="#000">**</text>
<text transform="translate(747.77,465.68)" style="font-family:'Liberation Sans',sans-serif;font-weight:bold;font-size:16.76px" fill="#000">**</text>
<text transform="translate(554.99,724.27) rotate(-45)" style="font-family:'Liberation Sans',sans-serif;font-weight:bold;font-size:16.97px" fill="#000">FPN1+/+</text>
<text transform="translate(667.69,721.27) rotate(-45)" style="font-family:'Liberation Sans',sans-serif;font-weight:bold;font-size:16.97px" fill="#000">FPN1+/-</text>
<text transform="translate(779.70,718.26) rotate(-45)" style="font-family:'Liberation Sans',sans-serif;font-weight:bold;font-size:16.97px" fill="#000">FPN1-/-</text>
<text transform="translate(936.54,391.36) scale(0.7416,1)" style="font-family:'Liberation Sans',sans-serif;font-size:34.08px" fill="#000">C-1</text>
<text transform="translate(1113.30,385.58) scale(0.7454,1)" style="font-family:'Liberation Serif',serif;font-weight:bold;font-size:22.27px" fill="#000">IL-4</text>
<text transform="translate(962.14,586.69) rotate(-90) scale(1.0233,1)" style="font-family:'Liberation Serif',serif;font-weight:bold;font-size:19.35px" fill="#000">IL-4 (pg/ml)</text>
<line x1="993.10" y1="426.15" x2="993.10" y2="642.85" stroke="#000" stroke-width="2.3" stroke-linecap="butt"/>
<line x1="991.95" y1="641.70" x2="1268.30" y2="641.70" stroke="#000" stroke-width="2.3" stroke-linecap="butt"/>
<line x1="987.45" y1="641.70" x2="993.10" y2="641.70" stroke="#000" stroke-width="2.3" stroke-linecap="butt"/>
<text transform="translate(978.64,647.51) scale(0.8700,1)" style="font-family:'Liberation Sans',sans-serif;font-weight:bold;font-size:16.00px" fill="#000">0</text>
<line x1="987.45" y1="588.10" x2="993.10" y2="588.10" stroke="#000" stroke-width="2.3" stroke-linecap="butt"/>
<text transform="translate(970.89,593.91) scale(0.8700,1)" style="font-family:'Liberation Sans',sans-serif;font-weight:bold;font-size:16.00px" fill="#000">10</text>
<line x1="987.45" y1="534.50" x2="993.10" y2="534.50" stroke="#000" stroke-width="2.3" stroke-linecap="butt"/>
<text transform="translate(970.89,540.31) scale(0.8700,1)" style="font-family:'Liberation Sans',sans-serif;font-weight:bold;font-size:16.00px" fill="#000">20</text>
<line x1="987.45" y1="480.90" x2="993.10" y2="480.90" stroke="#000" stroke-width="2.3" stroke-linecap="butt"/>
<text transform="translate(970.89,486.71) scale(0.8700,1)" style="font-family:'Liberation Sans',sans-serif;font-weight:bold;font-size:16.00px" fill="#000">30</text>
<line x1="987.45" y1="427.30" x2="993.10" y2="427.30" stroke="#000" stroke-width="2.3" stroke-linecap="butt"/>
<text transform="translate(970.89,433.11) scale(0.8700,1)" style="font-family:'Liberation Sans',sans-serif;font-weight:bold;font-size:16.00px" fill="#000">40</text>
<line x1="1039.00" y1="641.70" x2="1039.00" y2="648.00" stroke="#000" stroke-width="2.3" stroke-linecap="butt"/>
<line x1="1130.70" y1="641.70" x2="1130.70" y2="648.00" stroke="#000" stroke-width="2.3" stroke-linecap="butt"/>
<line x1="1222.70" y1="641.70" x2="1222.70" y2="648.00" stroke="#000" stroke-width="2.3" stroke-linecap="butt"/>
<ellipse cx="1027.8" cy="520.0" rx="3.5" ry="4.0" fill="#000"/>
<ellipse cx="1038.9" cy="520.7" rx="3.5" ry="4.0" fill="#000"/>
<ellipse cx="1050.5" cy="518.7" rx="3.5" ry="4.0" fill="#000"/>
<ellipse cx="1050.5" cy="533.6" rx="3.5" ry="4.0" fill="#000"/>
<ellipse cx="1038.9" cy="538.8" rx="3.5" ry="4.0" fill="#000"/>
<line x1="1008.40" y1="526.90" x2="1070.00" y2="526.90" stroke="#000" stroke-width="2.5" stroke-linecap="butt"/>
<line x1="1038.90" y1="522.60" x2="1038.90" y2="531.00" stroke="#000" stroke-width="2.5" stroke-linecap="butt"/>
<line x1="1023.30" y1="522.60" x2="1055.00" y2="522.60" stroke="#000" stroke-width="3" stroke-linecap="round"/>
<line x1="1023.30" y1="531.00" x2="1055.00" y2="531.00" stroke="#000" stroke-width="3" stroke-linecap="round"/>
<rect x="1127.4" y="500.9" width="7.2" height="7.2" fill="#000"/>
<rect x="1115.6" y="511.2" width="7.2" height="7.2" fill="#000"/>
<rect x="1138.9" y="511.9" width="7.2" height="7.2" fill="#000"/>
<rect x="1149.9" y="510.6" width="7.2" height="7.2" fill="#000"/>
<rect x="1127.4" y="521.0" width="7.2" height="7.2" fill="#000"/>
<line x1="1099.70" y1="515.10" x2="1161.90" y2="515.10" stroke="#000" stroke-width="2.5" stroke-linecap="butt"/>
<line x1="1131.00" y1="511.90" x2="1131.00" y2="518.70" stroke="#000" stroke-width="2.5" stroke-linecap="butt"/>
<line x1="1115.30" y1="511.90" x2="1146.40" y2="511.90" stroke="#000" stroke-width="3" stroke-linecap="round"/>
<line x1="1115.30" y1="518.70" x2="1146.40" y2="518.70" stroke="#000" stroke-width="3" stroke-linecap="round"/>
<path d="M1222.8,437.9 L1226.9,445.9 L1218.7,445.9Z" fill="#000"/>
<path d="M1211.8,470.9 L1215.9,478.9 L1207.7,478.9Z" fill="#000"/>
<path d="M1222.8,477.4 L1226.9,485.4 L1218.7,485.4Z" fill="#000"/>
<path d="M1234.2,491.6 L1238.3,499.6 L1230.1,499.6Z" fill="#000"/>
<path d="M1222.8,502.0 L1226.9,510.0 L1218.7,510.0Z" fill="#000"/>
<line x1="1192.40" y1="479.00" x2="1253.90" y2="479.00" stroke="#000" stroke-width="2.5" stroke-linecap="butt"/>
<line x1="1222.80" y1="468.20" x2="1222.80" y2="489.80" stroke="#000" stroke-width="2.5" stroke-linecap="butt"/>
<line x1="1207.30" y1="468.20" x2="1239.00" y2="468.20" stroke="#000" stroke-width="3" stroke-linecap="round"/>
<line x1="1207.30" y1="489.80" x2="1239.00" y2="489.80" stroke="#000" stroke-width="3" stroke-linecap="round"/>
<path d="M1033.3,413 L1033.3,442 M1033.3,420 L1221.7,420 M1033.3,435 L1221.7,435 M1221.7,413 L1221.7,442" stroke="#000" stroke-width="2.6" stroke-linecap="round" stroke-linejoin="round" fill="none"/>
<path d="M1124,428 L1124,442" stroke="#000" stroke-width="3.6" stroke-linecap="round" stroke-linejoin="round" fill="none"/>
<text transform="translate(1122.88,418.00) scale(0.8700,1)" style="font-family:'Liberation Sans',sans-serif;font-weight:bold;font-size:16.00px" fill="#000">**</text>
<text transform="translate(1072.28,456.30) scale(0.8700,1)" style="font-family:'Liberation Sans',sans-serif;font-weight:bold;font-size:16.00px" fill="#000">*</text>
<text transform="translate(1171.58,456.30) scale(0.8700,1)" style="font-family:'Liberation Sans',sans-serif;font-weight:bold;font-size:16.00px" fill="#000">*</text>
<text transform="translate(1007.88,706.27) scale(0.8700,1) rotate(-45)" style="font-family:'Liberation Sans',sans-serif;font-weight:bold;font-size:16.20px" fill="#000">FPN +/+</text>
<text transform="translate(1096.53,709.77) scale(0.8700,1) rotate(-45)" style="font-family:'Liberation Sans',sans-serif;font-weight:bold;font-size:16.20px" fill="#000">FPN1 +/-</text>
<text transform="translate(1191.03,706.90) scale(0.8700,1) rotate(-45)" style="font-family:'Liberation Sans',sans-serif;font-weight:bold;font-size:16.20px" fill="#000">FPN1 -/-</text>
<text transform="translate(1295.91,391.36) scale(0.8171,1)" style="font-family:'Liberation Sans',sans-serif;font-size:34.08px" fill="#000">C-2</text>
<text transform="translate(1490.00,386.37) scale(0.7819,1)" style="font-family:'Liberation Serif',serif;font-weight:bold;font-size:21.47px" fill="#000">IL-10</text>
<text transform="translate(1337.69,588.78) rotate(-90) scale(1.0392,1)" style="font-family:'Liberation Serif',serif;font-weight:bold;font-size:18.70px" fill="#000">IL-10 (pg/ml)</text>
<line x1="1377.30" y1="425.55" x2="1377.30" y2="638.45" stroke="#000" stroke-width="2.3" stroke-linecap="butt"/>
<line x1="1376.15" y1="637.30" x2="1646.70" y2="637.30" stroke="#000" stroke-width="2.3" stroke-linecap="butt"/>
<line x1="1371.55" y1="637.30" x2="1377.30" y2="637.30" stroke="#000" stroke-width="2.3" stroke-linecap="butt"/>
<text transform="translate(1362.80,642.94) scale(0.8850,1)" style="font-family:'Liberation Sans',sans-serif;font-weight:bold;font-size:15.54px" fill="#000">0</text>
<line x1="1371.55" y1="567.10" x2="1377.30" y2="567.10" stroke="#000" stroke-width="2.3" stroke-linecap="butt"/>
<text transform="translate(1347.50,572.74) scale(0.8850,1)" style="font-family:'Liberation Sans',sans-serif;font-weight:bold;font-size:15.54px" fill="#000">100</text>
<line x1="1371.55" y1="496.90" x2="1377.30" y2="496.90" stroke="#000" stroke-width="2.3" stroke-linecap="butt"/>
<text transform="translate(1347.50,502.54) scale(0.8850,1)" style="font-family:'Liberation Sans',sans-serif;font-weight:bold;font-size:15.54px" fill="#000">200</text>
<line x1="1371.55" y1="426.70" x2="1377.30" y2="426.70" stroke="#000" stroke-width="2.3" stroke-linecap="butt"/>
<text transform="translate(1347.50,432.34) scale(0.8850,1)" style="font-family:'Liberation Sans',sans-serif;font-weight:bold;font-size:15.54px" fill="#000">300</text>
<line x1="1421.70" y1="637.30" x2="1421.70" y2="643.42" stroke="#000" stroke-width="2.3" stroke-linecap="butt"/>
<line x1="1511.70" y1="637.30" x2="1511.70" y2="643.42" stroke="#000" stroke-width="2.3" stroke-linecap="butt"/>
<line x1="1601.70" y1="637.30" x2="1601.70" y2="643.42" stroke="#000" stroke-width="2.3" stroke-linecap="butt"/>
<ellipse cx="1412.0" cy="590.8" rx="3.5" ry="4.0" fill="#000"/>
<ellipse cx="1422.3" cy="594.9" rx="3.5" ry="4.0" fill="#000"/>
<ellipse cx="1422.3" cy="609.7" rx="3.5" ry="4.0" fill="#000"/>
<ellipse cx="1433.3" cy="603.9" rx="3.5" ry="4.0" fill="#000"/>
<ellipse cx="1413.0" cy="599.5" rx="3.5" ry="4.0" fill="#000"/>
<line x1="1392.30" y1="599.80" x2="1453.00" y2="599.80" stroke="#000" stroke-width="2.5" stroke-linecap="butt"/>
<line x1="1422.30" y1="596.60" x2="1422.30" y2="603.10" stroke="#000" stroke-width="2.5" stroke-linecap="butt"/>
<line x1="1407.00" y1="596.60" x2="1437.40" y2="596.60" stroke="#000" stroke-width="3" stroke-linecap="round"/>
<line x1="1407.00" y1="603.10" x2="1437.40" y2="603.10" stroke="#000" stroke-width="3" stroke-linecap="round"/>
<rect x="1508.4" y="554.4" width="7.2" height="7.2" fill="#000"/>
<rect x="1496.9" y="562.6" width="7.2" height="7.2" fill="#000"/>
<rect x="1519.0" y="565.9" width="7.2" height="7.2" fill="#000"/>
<rect x="1530.2" y="561.8" width="7.2" height="7.2" fill="#000"/>
<rect x="1508.4" y="574.1" width="7.2" height="7.2" fill="#000"/>
<line x1="1481.60" y1="567.00" x2="1542.30" y2="567.00" stroke="#000" stroke-width="2.5" stroke-linecap="butt"/>
<line x1="1512.00" y1="563.80" x2="1512.00" y2="571.10" stroke="#000" stroke-width="2.5" stroke-linecap="butt"/>
<line x1="1497.20" y1="563.80" x2="1526.70" y2="563.80" stroke="#000" stroke-width="3" stroke-linecap="round"/>
<line x1="1497.20" y1="571.10" x2="1526.70" y2="571.10" stroke="#000" stroke-width="3" stroke-linecap="round"/>
<path d="M1601.6,453.6 L1605.7,461.6 L1597.5,461.6Z" fill="#000"/>
<path d="M1590.7,489.7 L1594.8,497.7 L1586.6,497.7Z" fill="#000"/>
<path d="M1612.5,488.1 L1616.6,496.1 L1608.4,496.1Z" fill="#000"/>
<path d="M1601.6,527.4 L1605.7,535.4 L1597.5,535.4Z" fill="#000"/>
<line x1="1571.80" y1="495.70" x2="1631.60" y2="495.70" stroke="#000" stroke-width="2.5" stroke-linecap="butt"/>
<line x1="1601.60" y1="483.90" x2="1601.60" y2="508.00" stroke="#000" stroke-width="2.5" stroke-linecap="butt"/>
<line x1="1585.70" y1="483.90" x2="1617.70" y2="483.90" stroke="#000" stroke-width="3" stroke-linecap="round"/>
<line x1="1585.70" y1="508.00" x2="1617.70" y2="508.00" stroke="#000" stroke-width="3" stroke-linecap="round"/>
<path d="M1416.7,413 L1416.7,441 M1416.7,420 L1599.3,420 M1416.7,434 L1599.3,434 M1599.3,413 L1599.3,441" stroke="#000" stroke-width="2.6" stroke-linecap="round" stroke-linejoin="round" fill="none"/>
<path d="M1505,427 L1505,441" stroke="#000" stroke-width="3.6" stroke-linecap="round" stroke-linejoin="round" fill="none"/>
<text transform="translate(1502.94,418.47) scale(0.8850,1)" style="font-family:'Liberation Sans',sans-serif;font-weight:bold;font-size:15.54px" fill="#000">**</text>
<text transform="translate(1454.64,456.07) scale(0.8850,1)" style="font-family:'Liberation Sans',sans-serif;font-weight:bold;font-size:15.54px" fill="#000">**</text>
<text transform="translate(1548.94,456.07) scale(0.8850,1)" style="font-family:'Liberation Sans',sans-serif;font-weight:bold;font-size:15.54px" fill="#000">**</text>
<text transform="translate(1390.96,700.00) scale(0.8850,1) rotate(-45)" style="font-family:'Liberation Sans',sans-serif;font-weight:bold;font-size:15.73px" fill="#000">FPN +/+</text>
<text transform="translate(1477.94,703.41) scale(0.8850,1) rotate(-45)" style="font-family:'Liberation Sans',sans-serif;font-weight:bold;font-size:15.73px" fill="#000">FPN1 +/-</text>
<text transform="translate(1570.41,700.62) scale(0.8850,1) rotate(-45)" style="font-family:'Liberation Sans',sans-serif;font-weight:bold;font-size:15.73px" fill="#000">FPN1 -/-</text>
<text transform="translate(1653.31,391.36) scale(0.8137,1)" style="font-family:'Liberation Sans',sans-serif;font-size:34.08px" fill="#000">C-3</text>
<text transform="translate(1841.83,389.72) scale(0.8680,1)" style="font-family:'Liberation Serif',serif;font-weight:bold;font-size:19.89px" fill="#000">TGF-β</text>
<text transform="translate(1699.77,591.30) rotate(-90) scale(1.1826,1)" style="font-family:'Liberation Serif',serif;font-weight:bold;font-size:16.52px" fill="#000">TGF-β (ng/ml)</text>
<line x1="1736.70" y1="426.55" x2="1736.70" y2="632.85" stroke="#000" stroke-width="2.3" stroke-linecap="butt"/>
<line x1="1735.55" y1="631.70" x2="2001.70" y2="631.70" stroke="#000" stroke-width="2.3" stroke-linecap="butt"/>
<line x1="1730.98" y1="631.70" x2="1736.70" y2="631.70" stroke="#000" stroke-width="2.3" stroke-linecap="butt"/>
<text transform="translate(1722.37,637.27) scale(0.8800,1)" style="font-family:'Liberation Sans',sans-serif;font-weight:bold;font-size:15.35px" fill="#000">0</text>
<line x1="1730.98" y1="580.70" x2="1736.70" y2="580.70" stroke="#000" stroke-width="2.3" stroke-linecap="butt"/>
<text transform="translate(1714.86,586.27) scale(0.8800,1)" style="font-family:'Liberation Sans',sans-serif;font-weight:bold;font-size:15.35px" fill="#000">50</text>
<line x1="1730.98" y1="529.70" x2="1736.70" y2="529.70" stroke="#000" stroke-width="2.3" stroke-linecap="butt"/>
<text transform="translate(1707.35,535.27) scale(0.8800,1)" style="font-family:'Liberation Sans',sans-serif;font-weight:bold;font-size:15.35px" fill="#000">100</text>
<line x1="1730.98" y1="478.70" x2="1736.70" y2="478.70" stroke="#000" stroke-width="2.3" stroke-linecap="butt"/>
<text transform="translate(1707.35,484.27) scale(0.8800,1)" style="font-family:'Liberation Sans',sans-serif;font-weight:bold;font-size:15.35px" fill="#000">150</text>
<line x1="1730.98" y1="427.70" x2="1736.70" y2="427.70" stroke="#000" stroke-width="2.3" stroke-linecap="butt"/>
<text transform="translate(1707.35,433.27) scale(0.8800,1)" style="font-family:'Liberation Sans',sans-serif;font-weight:bold;font-size:15.35px" fill="#000">200</text>
<line x1="1781.70" y1="631.70" x2="1781.70" y2="637.75" stroke="#000" stroke-width="2.3" stroke-linecap="butt"/>
<line x1="1869.30" y1="631.70" x2="1869.30" y2="637.75" stroke="#000" stroke-width="2.3" stroke-linecap="butt"/>
<line x1="1956.70" y1="631.70" x2="1956.70" y2="637.75" stroke="#000" stroke-width="2.3" stroke-linecap="butt"/>
<ellipse cx="1760.1" cy="557.2" rx="3.5" ry="4.0" fill="#000"/>
<ellipse cx="1770.4" cy="561.0" rx="3.5" ry="4.0" fill="#000"/>
<ellipse cx="1781.2" cy="568.2" rx="3.5" ry="4.0" fill="#000"/>
<ellipse cx="1791.8" cy="561.0" rx="3.5" ry="4.0" fill="#000"/>
<ellipse cx="1802.4" cy="557.4" rx="3.5" ry="4.0" fill="#000"/>
<line x1="1751.00" y1="561.40" x2="1811.20" y2="561.40" stroke="#000" stroke-width="2.5" stroke-linecap="butt"/>
<line x1="1781.20" y1="559.40" x2="1781.20" y2="563.40" stroke="#000" stroke-width="2.5" stroke-linecap="butt"/>
<line x1="1766.00" y1="559.40" x2="1796.00" y2="559.40" stroke="#000" stroke-width="3" stroke-linecap="round"/>
<line x1="1766.00" y1="563.40" x2="1796.00" y2="563.40" stroke="#000" stroke-width="3" stroke-linecap="round"/>
<rect x="1865.7" y="485.2" width="7.2" height="7.2" fill="#000"/>
<rect x="1854.9" y="514.7" width="7.2" height="7.2" fill="#000"/>
<rect x="1865.7" y="518.6" width="7.2" height="7.2" fill="#000"/>
<rect x="1876.3" y="532.2" width="7.2" height="7.2" fill="#000"/>
<rect x="1865.7" y="542.5" width="7.2" height="7.2" fill="#000"/>
<line x1="1839.70" y1="521.90" x2="1898.70" y2="521.90" stroke="#000" stroke-width="2.5" stroke-linecap="butt"/>
<line x1="1868.90" y1="512.50" x2="1868.90" y2="531.90" stroke="#000" stroke-width="2.5" stroke-linecap="butt"/>
<line x1="1854.00" y1="512.50" x2="1884.40" y2="512.50" stroke="#000" stroke-width="3" stroke-linecap="round"/>
<line x1="1854.00" y1="531.90" x2="1884.40" y2="531.90" stroke="#000" stroke-width="3" stroke-linecap="round"/>
<path d="M1946.6,469.8 L1950.7,477.8 L1942.5,477.8Z" fill="#000"/>
<path d="M1967.7,469.8 L1971.8,477.8 L1963.6,477.8Z" fill="#000"/>
<path d="M1946.6,484.1 L1950.7,492.1 L1942.5,492.1Z" fill="#000"/>
<path d="M1967.7,484.7 L1971.8,492.7 L1963.6,492.7Z" fill="#000"/>
<path d="M1957.4,492.5 L1961.5,500.5 L1953.3,500.5Z" fill="#000"/>
<line x1="1927.20" y1="483.30" x2="1986.80" y2="483.30" stroke="#000" stroke-width="2.5" stroke-linecap="butt"/>
<line x1="1957.40" y1="479.70" x2="1957.40" y2="487.20" stroke="#000" stroke-width="2.5" stroke-linecap="butt"/>
<line x1="1942.00" y1="479.70" x2="1972.50" y2="479.70" stroke="#000" stroke-width="3" stroke-linecap="round"/>
<line x1="1942.00" y1="487.20" x2="1972.50" y2="487.20" stroke="#000" stroke-width="3" stroke-linecap="round"/>
<path d="M1775,414 L1775,442 M1775,421 L1955,421 M1775,435 L1955,435 M1955,414 L1955,442" stroke="#000" stroke-width="2.6" stroke-linecap="round" stroke-linejoin="round" fill="none"/>
<path d="M1862.7,428 L1862.7,442" stroke="#000" stroke-width="3.6" stroke-linecap="round" stroke-linejoin="round" fill="none"/>
<text transform="translate(1860.74,419.37) scale(0.8800,1)" style="font-family:'Liberation Sans',sans-serif;font-weight:bold;font-size:15.35px" fill="#000">**</text>
<text transform="translate(1813.04,455.97) scale(0.8800,1)" style="font-family:'Liberation Sans',sans-serif;font-weight:bold;font-size:15.35px" fill="#000">**</text>
<text transform="translate(1905.44,455.97) scale(0.8800,1)" style="font-family:'Liberation Sans',sans-serif;font-weight:bold;font-size:15.35px" fill="#000">**</text>
<text transform="translate(1751.52,693.60) scale(0.8800,1) rotate(-45)" style="font-family:'Liberation Sans',sans-serif;font-weight:bold;font-size:15.53px" fill="#000">FPN +/+</text>
<text transform="translate(1836.16,696.96) scale(0.8800,1) rotate(-45)" style="font-family:'Liberation Sans',sans-serif;font-weight:bold;font-size:15.53px" fill="#000">FPN1 +/-</text>
<text transform="translate(1925.99,694.21) scale(0.8800,1) rotate(-45)" style="font-family:'Liberation Sans',sans-serif;font-weight:bold;font-size:15.53px" fill="#000">FPN1 -/-</text>
<text transform="translate(16.67,763.60) scale(0.9723,1)" style="font-family:'Liberation Sans',sans-serif;font-size:31.29px" fill="#000">B-2</text>
<text transform="translate(225.39,763.45) scale(0.9066,1)" style="font-family:'Liberation Serif',serif;font-weight:bold;font-size:22.35px" fill="#000">IL-10</text>
<text transform="translate(35.38,945.20) rotate(-90) scale(0.9263,1)" style="font-family:'Liberation Serif',serif;font-weight:bold;font-size:21.79px" fill="#000">mRNA</text>
<text transform="translate(59.64,1003.93) rotate(-90) scale(0.9617,1)" style="font-family:'Liberation Serif',serif;font-weight:bold;font-size:21.63px" fill="#000">(Relative to control)</text>
<rect x="107.50" y="997.00" width="71.00" height="27.70" fill="url(#pdots)"/>
<path d="M107.50,1024.70 L107.50,997.00 L178.50,997.00 L178.50,1024.70" fill="none" stroke="#000" stroke-width="3" stroke-linejoin="round"/>
<line x1="143.00" y1="997.00" x2="143.00" y2="995.36" stroke="#000" stroke-width="3" stroke-linecap="butt"/>
<line x1="124.13" y1="995.36" x2="161.87" y2="995.36" stroke="#000" stroke-width="3" stroke-linecap="round"/>
<rect x="216.15" y="933.10" width="71.00" height="91.60" fill="url(#pcheck)"/>
<path d="M216.15,1024.70 L216.15,933.10 L287.15,933.10 L287.15,1024.70" fill="none" stroke="#000" stroke-width="3" stroke-linejoin="round"/>
<line x1="251.65" y1="933.10" x2="251.65" y2="922.68" stroke="#000" stroke-width="3" stroke-linecap="butt"/>
<line x1="232.78" y1="922.68" x2="270.52" y2="922.68" stroke="#000" stroke-width="3" stroke-linecap="round"/>
<rect x="325.00" y="874.41" width="71.00" height="150.29" fill="url(#pstripe)"/>
<path d="M325.00,1024.70 L325.00,874.41 L396.00,874.41 L396.00,1024.70" fill="none" stroke="#000" stroke-width="3" stroke-linejoin="round"/>
<line x1="360.50" y1="874.41" x2="360.50" y2="858.78" stroke="#000" stroke-width="3" stroke-linecap="butt"/>
<line x1="341.63" y1="858.78" x2="379.37" y2="858.78" stroke="#000" stroke-width="3" stroke-linecap="round"/>
<line x1="88.30" y1="804.15" x2="88.30" y2="1025.85" stroke="#000" stroke-width="2.3" stroke-linecap="butt"/>
<line x1="87.15" y1="1024.70" x2="416.70" y2="1024.70" stroke="#000" stroke-width="2.3" stroke-linecap="butt"/>
<line x1="81.80" y1="1024.70" x2="88.30" y2="1024.70" stroke="#000" stroke-width="2.3" stroke-linecap="butt"/>
<text transform="translate(71.42,1030.69)" style="font-family:'Liberation Sans',sans-serif;font-weight:bold;font-size:16.50px" fill="#000">0</text>
<line x1="81.80" y1="969.85" x2="88.30" y2="969.85" stroke="#000" stroke-width="2.3" stroke-linecap="butt"/>
<text transform="translate(71.42,975.92)" style="font-family:'Liberation Sans',sans-serif;font-weight:bold;font-size:16.50px" fill="#000">2</text>
<line x1="81.80" y1="915.00" x2="88.30" y2="915.00" stroke="#000" stroke-width="2.3" stroke-linecap="butt"/>
<text transform="translate(70.76,920.99)" style="font-family:'Liberation Sans',sans-serif;font-weight:bold;font-size:16.50px" fill="#000">4</text>
<line x1="81.80" y1="860.15" x2="88.30" y2="860.15" stroke="#000" stroke-width="2.3" stroke-linecap="butt"/>
<text transform="translate(71.42,866.14)" style="font-family:'Liberation Sans',sans-serif;font-weight:bold;font-size:16.50px" fill="#000">6</text>
<line x1="81.80" y1="805.30" x2="88.30" y2="805.30" stroke="#000" stroke-width="2.3" stroke-linecap="butt"/>
<text transform="translate(71.25,811.29)" style="font-family:'Liberation Sans',sans-serif;font-weight:bold;font-size:16.50px" fill="#000">8</text>
<line x1="143.00" y1="1024.70" x2="143.00" y2="1031.20" stroke="#000" stroke-width="2.3" stroke-linecap="butt"/>
<line x1="251.65" y1="1024.70" x2="251.65" y2="1031.20" stroke="#000" stroke-width="2.3" stroke-linecap="butt"/>
<line x1="360.50" y1="1024.70" x2="360.50" y2="1031.20" stroke="#000" stroke-width="2.3" stroke-linecap="butt"/>
<path d="M135.7,791 L135.7,819.7 M135.7,798 L358.3,798 M135.7,812.7 L358.3,812.7 M358.3,791 L358.3,819.7" stroke="#000" stroke-width="2.6" stroke-linecap="round" stroke-linejoin="round" fill="none"/>
<path d="M244,805.7 L244,819.7" stroke="#000" stroke-width="3.6" stroke-linecap="round" stroke-linejoin="round" fill="none"/>
<text transform="translate(241.87,797.55)" style="font-family:'Liberation Sans',sans-serif;font-weight:bold;font-size:16.50px" fill="#000">**</text>
<text transform="translate(182.48,836.25)" style="font-family:'Liberation Sans',sans-serif;font-weight:bold;font-size:16.50px" fill="#000">*</text>
<text transform="translate(298.48,836.25)" style="font-family:'Liberation Sans',sans-serif;font-weight:bold;font-size:16.50px" fill="#000">*</text>
<text transform="translate(102.84,1094.55) rotate(-45)" style="font-family:'Liberation Sans',sans-serif;font-weight:bold;font-size:16.70px" fill="#000">FPN1+/+</text>
<text transform="translate(214.44,1091.60) rotate(-45)" style="font-family:'Liberation Sans',sans-serif;font-weight:bold;font-size:16.70px" fill="#000">FPN1+/-</text>
<text transform="translate(326.25,1088.63) rotate(-45)" style="font-family:'Liberation Sans',sans-serif;font-weight:bold;font-size:16.70px" fill="#000">FPN1-/-</text>
<text transform="translate(474.48,758.69) scale(0.9727,1)" style="font-family:'Liberation Sans',sans-serif;font-size:31.13px" fill="#000">B-3</text>
<text transform="translate(695.79,770.46) scale(0.9397,1)" style="font-family:'Liberation Serif',serif;font-weight:bold;font-size:21.91px" fill="#000">TGF-α</text>
<text transform="translate(506.09,942.89) rotate(-90) scale(0.9305,1)" style="font-family:'Liberation Serif',serif;font-weight:bold;font-size:21.04px" fill="#000">mRNA</text>
<text transform="translate(530.52,1000.71) rotate(-90) scale(0.9136,1)" style="font-family:'Liberation Serif',serif;font-weight:bold;font-size:22.17px" fill="#000">(Relative to control)</text>
<rect x="588.80" y="934.72" width="69.70" height="84.58" fill="url(#pdots)"/>
<path d="M588.80,1019.30 L588.80,934.72 L658.50,934.72 L658.50,1019.30" fill="none" stroke="#000" stroke-width="3" stroke-linejoin="round"/>
<line x1="623.65" y1="934.72" x2="623.65" y2="930.34" stroke="#000" stroke-width="3" stroke-linecap="butt"/>
<line x1="605.11" y1="930.34" x2="642.19" y2="930.34" stroke="#000" stroke-width="3" stroke-linecap="round"/>
<rect x="694.80" y="886.03" width="69.70" height="133.27" fill="url(#pcheck)"/>
<path d="M694.80,1019.30 L694.80,886.03 L764.50,886.03 L764.50,1019.30" fill="none" stroke="#000" stroke-width="3" stroke-linejoin="round"/>
<line x1="729.65" y1="886.03" x2="729.65" y2="878.70" stroke="#000" stroke-width="3" stroke-linecap="butt"/>
<line x1="711.11" y1="878.70" x2="748.19" y2="878.70" stroke="#000" stroke-width="3" stroke-linecap="round"/>
<rect x="800.15" y="845.26" width="69.70" height="174.04" fill="url(#pstripe)"/>
<path d="M800.15,1019.30 L800.15,845.26 L869.85,845.26 L869.85,1019.30" fill="none" stroke="#000" stroke-width="3" stroke-linejoin="round"/>
<line x1="835.00" y1="845.26" x2="835.00" y2="835.99" stroke="#000" stroke-width="3" stroke-linecap="butt"/>
<line x1="816.46" y1="835.99" x2="853.54" y2="835.99" stroke="#000" stroke-width="3" stroke-linecap="round"/>
<line x1="570.70" y1="807.55" x2="570.70" y2="1020.45" stroke="#000" stroke-width="2.3" stroke-linecap="butt"/>
<line x1="569.55" y1="1019.30" x2="887.30" y2="1019.30" stroke="#000" stroke-width="2.3" stroke-linecap="butt"/>
<line x1="564.13" y1="1019.30" x2="570.70" y2="1019.30" stroke="#000" stroke-width="2.3" stroke-linecap="butt"/>
<text transform="translate(540.79,1025.02) scale(1.0100,1)" style="font-family:'Liberation Sans',sans-serif;font-weight:bold;font-size:15.74px" fill="#000">0.0</text>
<line x1="564.13" y1="977.18" x2="570.70" y2="977.18" stroke="#000" stroke-width="2.3" stroke-linecap="butt"/>
<text transform="translate(540.63,982.90) scale(1.0100,1)" style="font-family:'Liberation Sans',sans-serif;font-weight:bold;font-size:15.74px" fill="#000">0.5</text>
<line x1="564.13" y1="935.06" x2="570.70" y2="935.06" stroke="#000" stroke-width="2.3" stroke-linecap="butt"/>
<text transform="translate(540.79,940.78) scale(1.0100,1)" style="font-family:'Liberation Sans',sans-serif;font-weight:bold;font-size:15.74px" fill="#000">1.0</text>
<line x1="564.13" y1="892.94" x2="570.70" y2="892.94" stroke="#000" stroke-width="2.3" stroke-linecap="butt"/>
<text transform="translate(540.63,898.58) scale(1.0100,1)" style="font-family:'Liberation Sans',sans-serif;font-weight:bold;font-size:15.74px" fill="#000">1.5</text>
<line x1="564.13" y1="850.82" x2="570.70" y2="850.82" stroke="#000" stroke-width="2.3" stroke-linecap="butt"/>
<text transform="translate(540.79,856.54) scale(1.0100,1)" style="font-family:'Liberation Sans',sans-serif;font-weight:bold;font-size:15.74px" fill="#000">2.0</text>
<line x1="564.13" y1="808.70" x2="570.70" y2="808.70" stroke="#000" stroke-width="2.3" stroke-linecap="butt"/>
<text transform="translate(540.63,814.42) scale(1.0100,1)" style="font-family:'Liberation Sans',sans-serif;font-weight:bold;font-size:15.74px" fill="#000">2.5</text>
<line x1="623.65" y1="1019.30" x2="623.65" y2="1025.50" stroke="#000" stroke-width="2.3" stroke-linecap="butt"/>
<line x1="729.65" y1="1019.30" x2="729.65" y2="1025.50" stroke="#000" stroke-width="2.3" stroke-linecap="butt"/>
<line x1="835.00" y1="1019.30" x2="835.00" y2="1025.50" stroke="#000" stroke-width="2.3" stroke-linecap="butt"/>
<path d="M616.7,795 L616.7,823.3 M616.7,802 L832.7,802 M616.7,816.3 L832.7,816.3 M832.7,795 L832.7,823.3" stroke="#000" stroke-width="2.6" stroke-linecap="round" stroke-linejoin="round" fill="none"/>
<path d="M721.7,809.3 L721.7,823.3" stroke="#000" stroke-width="3.6" stroke-linecap="round" stroke-linejoin="round" fill="none"/>
<text transform="translate(719.81,800.57) scale(1.0100,1)" style="font-family:'Liberation Sans',sans-serif;font-weight:bold;font-size:15.74px" fill="#000">**</text>
<text transform="translate(662.60,837.17) scale(1.0100,1)" style="font-family:'Liberation Sans',sans-serif;font-weight:bold;font-size:15.74px" fill="#000">*</text>
<text transform="translate(775.20,837.17) scale(1.0100,1)" style="font-family:'Liberation Sans',sans-serif;font-weight:bold;font-size:15.74px" fill="#000">*</text>
<text transform="translate(584.95,1085.94) scale(1.0100,1) rotate(-45)" style="font-family:'Liberation Sans',sans-serif;font-weight:bold;font-size:15.93px" fill="#000">FPN1+/+</text>
<text transform="translate(693.79,1083.12) scale(1.0100,1) rotate(-45)" style="font-family:'Liberation Sans',sans-serif;font-weight:bold;font-size:15.93px" fill="#000">FPN1+/-</text>
<text transform="translate(802.00,1080.29) scale(1.0100,1) rotate(-45)" style="font-family:'Liberation Sans',sans-serif;font-weight:bold;font-size:15.93px" fill="#000">FPN1-/-</text>
<text transform="translate(922.52,763.96) scale(0.8190,1)" style="font-family:'Liberation Sans',sans-serif;font-size:33.80px" fill="#000">C-4</text>
<text transform="translate(1108.72,756.18) scale(0.8079,1)" style="font-family:'Liberation Serif',serif;font-weight:bold;font-size:22.27px" fill="#000">TNF-α</text>
<text transform="translate(968.71,967.31) rotate(-90) scale(1.1205,1)" style="font-family:'Liberation Serif',serif;font-weight:bold;font-size:18.59px" fill="#000">TNF-α (pg/ml)</text>
<line x1="1000.70" y1="794.13" x2="1000.70" y2="1010.45" stroke="#000" stroke-width="2.3" stroke-linecap="butt"/>
<line x1="999.55" y1="1009.30" x2="1275.00" y2="1009.30" stroke="#000" stroke-width="2.3" stroke-linecap="butt"/>
<line x1="995.08" y1="1009.30" x2="1000.70" y2="1009.30" stroke="#000" stroke-width="2.3" stroke-linecap="butt"/>
<text transform="translate(986.32,1015.11) scale(0.8650,1)" style="font-family:'Liberation Sans',sans-serif;font-weight:bold;font-size:16.00px" fill="#000">0</text>
<line x1="995.08" y1="937.96" x2="1000.70" y2="937.96" stroke="#000" stroke-width="2.3" stroke-linecap="butt"/>
<text transform="translate(978.62,943.77) scale(0.8650,1)" style="font-family:'Liberation Sans',sans-serif;font-weight:bold;font-size:16.00px" fill="#000">20</text>
<line x1="995.08" y1="866.62" x2="1000.70" y2="866.62" stroke="#000" stroke-width="2.3" stroke-linecap="butt"/>
<text transform="translate(978.62,872.43) scale(0.8650,1)" style="font-family:'Liberation Sans',sans-serif;font-weight:bold;font-size:16.00px" fill="#000">40</text>
<line x1="995.08" y1="795.28" x2="1000.70" y2="795.28" stroke="#000" stroke-width="2.3" stroke-linecap="butt"/>
<text transform="translate(978.62,801.09) scale(0.8650,1)" style="font-family:'Liberation Sans',sans-serif;font-weight:bold;font-size:16.00px" fill="#000">60</text>
<line x1="1046.70" y1="1009.30" x2="1046.70" y2="1015.60" stroke="#000" stroke-width="2.3" stroke-linecap="butt"/>
<line x1="1137.30" y1="1009.30" x2="1137.30" y2="1015.60" stroke="#000" stroke-width="2.3" stroke-linecap="butt"/>
<line x1="1229.30" y1="1009.30" x2="1229.30" y2="1015.60" stroke="#000" stroke-width="2.3" stroke-linecap="butt"/>
<ellipse cx="1046.3" cy="835.3" rx="3.5" ry="4.0" fill="#000"/>
<ellipse cx="1034.9" cy="844.0" rx="3.5" ry="4.0" fill="#000"/>
<ellipse cx="1046.3" cy="851.3" rx="3.5" ry="4.0" fill="#000"/>
<ellipse cx="1057.3" cy="860.4" rx="3.5" ry="4.0" fill="#000"/>
<ellipse cx="1046.3" cy="865.6" rx="3.5" ry="4.0" fill="#000"/>
<line x1="1015.20" y1="851.30" x2="1077.40" y2="851.30" stroke="#000" stroke-width="2.5" stroke-linecap="butt"/>
<line x1="1046.30" y1="845.90" x2="1046.30" y2="856.90" stroke="#000" stroke-width="2.5" stroke-linecap="butt"/>
<line x1="1030.70" y1="845.90" x2="1062.50" y2="845.90" stroke="#000" stroke-width="3" stroke-linecap="round"/>
<line x1="1030.70" y1="856.90" x2="1062.50" y2="856.90" stroke="#000" stroke-width="3" stroke-linecap="round"/>
<rect x="1123.4" y="885.7" width="7.2" height="7.2" fill="#000"/>
<rect x="1134.0" y="894.1" width="7.2" height="7.2" fill="#000"/>
<rect x="1123.4" y="899.4" width="7.2" height="7.2" fill="#000"/>
<rect x="1145.6" y="904.5" width="7.2" height="7.2" fill="#000"/>
<rect x="1134.0" y="912.3" width="7.2" height="7.2" fill="#000"/>
<line x1="1106.50" y1="902.90" x2="1168.70" y2="902.90" stroke="#000" stroke-width="2.5" stroke-linecap="butt"/>
<line x1="1137.60" y1="898.40" x2="1137.60" y2="907.40" stroke="#000" stroke-width="2.5" stroke-linecap="butt"/>
<line x1="1122.00" y1="898.40" x2="1153.10" y2="898.40" stroke="#000" stroke-width="3" stroke-linecap="round"/>
<line x1="1122.00" y1="907.40" x2="1153.10" y2="907.40" stroke="#000" stroke-width="3" stroke-linecap="round"/>
<path d="M1228.9,927.0 L1233.0,935.0 L1224.8,935.0Z" fill="#000"/>
<path d="M1218.0,937.6 L1222.1,945.6 L1213.9,945.6Z" fill="#000"/>
<path d="M1239.9,941.9 L1244.0,949.9 L1235.8,949.9Z" fill="#000"/>
<path d="M1250.9,938.0 L1255.0,946.0 L1246.8,946.0Z" fill="#000"/>
<path d="M1228.9,947.7 L1233.0,955.7 L1224.8,955.7Z" fill="#000"/>
<line x1="1198.50" y1="942.00" x2="1260.00" y2="942.00" stroke="#000" stroke-width="2.5" stroke-linecap="butt"/>
<line x1="1228.90" y1="938.50" x2="1228.90" y2="946.30" stroke="#000" stroke-width="2.5" stroke-linecap="butt"/>
<line x1="1213.40" y1="938.50" x2="1244.50" y2="938.50" stroke="#000" stroke-width="3" stroke-linecap="round"/>
<line x1="1213.40" y1="946.30" x2="1244.50" y2="946.30" stroke="#000" stroke-width="3" stroke-linecap="round"/>
<path d="M1040,781.7 L1040,809.7 M1040,788.7 L1226,788.7 M1040,802.7 L1226,802.7 M1226,781.7 L1226,809.7" stroke="#000" stroke-width="2.6" stroke-linecap="round" stroke-linejoin="round" fill="none"/>
<path d="M1130.7,795.7 L1130.7,809.7" stroke="#000" stroke-width="3.6" stroke-linecap="round" stroke-linejoin="round" fill="none"/>
<text transform="translate(1129.61,786.70) scale(0.8650,1)" style="font-family:'Liberation Sans',sans-serif;font-weight:bold;font-size:16.00px" fill="#000">**</text>
<text transform="translate(1079.61,824.00) scale(0.8650,1)" style="font-family:'Liberation Sans',sans-serif;font-weight:bold;font-size:16.00px" fill="#000">**</text>
<text transform="translate(1175.31,824.00) scale(0.8650,1)" style="font-family:'Liberation Sans',sans-serif;font-weight:bold;font-size:16.00px" fill="#000">**</text>
<text transform="translate(1015.76,1073.87) scale(0.8650,1) rotate(-45)" style="font-family:'Liberation Sans',sans-serif;font-weight:bold;font-size:16.20px" fill="#000">FPN +/+</text>
<text transform="translate(1103.32,1077.37) scale(0.8650,1) rotate(-45)" style="font-family:'Liberation Sans',sans-serif;font-weight:bold;font-size:16.20px" fill="#000">FPN1 +/-</text>
<text transform="translate(1197.81,1074.50) scale(0.8650,1) rotate(-45)" style="font-family:'Liberation Sans',sans-serif;font-weight:bold;font-size:16.20px" fill="#000">FPN1 -/-</text>
<text transform="translate(1299.01,763.96) scale(0.8224,1)" style="font-family:'Liberation Sans',sans-serif;font-size:33.80px" fill="#000">C-5</text>
<text transform="translate(1500.89,753.48) scale(0.7950,1)" style="font-family:'Liberation Serif',serif;font-weight:bold;font-size:21.51px" fill="#000">IFN-γ</text>
<text transform="translate(1355.75,959.00) rotate(-90) scale(1.1217,1)" style="font-family:'Liberation Serif',serif;font-weight:bold;font-size:17.93px" fill="#000">IFN-γ (pg/ml)</text>
<line x1="1387.30" y1="792.55" x2="1387.30" y2="1008.15" stroke="#000" stroke-width="2.3" stroke-linecap="butt"/>
<line x1="1386.15" y1="1007.00" x2="1662.50" y2="1007.00" stroke="#000" stroke-width="2.3" stroke-linecap="butt"/>
<line x1="1381.53" y1="1007.00" x2="1387.30" y2="1007.00" stroke="#000" stroke-width="2.3" stroke-linecap="butt"/>
<text transform="translate(1372.63,1012.75) scale(0.8870,1)" style="font-family:'Liberation Sans',sans-serif;font-weight:bold;font-size:15.84px" fill="#000">0</text>
<line x1="1381.53" y1="964.34" x2="1387.30" y2="964.34" stroke="#000" stroke-width="2.3" stroke-linecap="butt"/>
<text transform="translate(1364.82,970.09) scale(0.8870,1)" style="font-family:'Liberation Sans',sans-serif;font-weight:bold;font-size:15.84px" fill="#000">10</text>
<line x1="1381.53" y1="921.68" x2="1387.30" y2="921.68" stroke="#000" stroke-width="2.3" stroke-linecap="butt"/>
<text transform="translate(1364.82,927.43) scale(0.8870,1)" style="font-family:'Liberation Sans',sans-serif;font-weight:bold;font-size:15.84px" fill="#000">20</text>
<line x1="1381.53" y1="879.02" x2="1387.30" y2="879.02" stroke="#000" stroke-width="2.3" stroke-linecap="butt"/>
<text transform="translate(1364.82,884.77) scale(0.8870,1)" style="font-family:'Liberation Sans',sans-serif;font-weight:bold;font-size:15.84px" fill="#000">30</text>
<line x1="1381.53" y1="836.36" x2="1387.30" y2="836.36" stroke="#000" stroke-width="2.3" stroke-linecap="butt"/>
<text transform="translate(1364.82,842.11) scale(0.8870,1)" style="font-family:'Liberation Sans',sans-serif;font-weight:bold;font-size:15.84px" fill="#000">40</text>
<line x1="1381.53" y1="793.70" x2="1387.30" y2="793.70" stroke="#000" stroke-width="2.3" stroke-linecap="butt"/>
<text transform="translate(1364.82,799.45) scale(0.8870,1)" style="font-family:'Liberation Sans',sans-serif;font-weight:bold;font-size:15.84px" fill="#000">50</text>
<line x1="1434.00" y1="1007.00" x2="1434.00" y2="1013.24" stroke="#000" stroke-width="2.3" stroke-linecap="butt"/>
<line x1="1524.00" y1="1007.00" x2="1524.00" y2="1013.24" stroke="#000" stroke-width="2.3" stroke-linecap="butt"/>
<line x1="1616.00" y1="1007.00" x2="1616.00" y2="1013.24" stroke="#000" stroke-width="2.3" stroke-linecap="butt"/>
<ellipse cx="1433.2" cy="924.6" rx="3.5" ry="4.0" fill="#000"/>
<ellipse cx="1421.0" cy="933.0" rx="3.5" ry="4.0" fill="#000"/>
<ellipse cx="1455.5" cy="933.8" rx="3.5" ry="4.0" fill="#000"/>
<ellipse cx="1443.8" cy="937.7" rx="3.5" ry="4.0" fill="#000"/>
<ellipse cx="1433.2" cy="946.5" rx="3.5" ry="4.0" fill="#000"/>
<line x1="1402.30" y1="935.20" x2="1464.20" y2="935.20" stroke="#000" stroke-width="2.5" stroke-linecap="butt"/>
<line x1="1433.20" y1="931.20" x2="1433.20" y2="939.20" stroke="#000" stroke-width="2.5" stroke-linecap="butt"/>
<line x1="1417.60" y1="931.20" x2="1448.90" y2="931.20" stroke="#000" stroke-width="3" stroke-linecap="round"/>
<line x1="1417.60" y1="939.20" x2="1448.90" y2="939.20" stroke="#000" stroke-width="3" stroke-linecap="round"/>
<rect x="1532.0" y="873.6" width="7.2" height="7.2" fill="#000"/>
<rect x="1521.1" y="879.5" width="7.2" height="7.2" fill="#000"/>
<rect x="1521.1" y="889.7" width="7.2" height="7.2" fill="#000"/>
<rect x="1532.0" y="896.2" width="7.2" height="7.2" fill="#000"/>
<rect x="1521.1" y="906.4" width="7.2" height="7.2" fill="#000"/>
<line x1="1494.10" y1="893.30" x2="1556.00" y2="893.30" stroke="#000" stroke-width="2.5" stroke-linecap="butt"/>
<line x1="1524.70" y1="887.40" x2="1524.70" y2="899.50" stroke="#000" stroke-width="2.5" stroke-linecap="butt"/>
<line x1="1509.40" y1="887.40" x2="1540.70" y2="887.40" stroke="#000" stroke-width="3" stroke-linecap="round"/>
<line x1="1509.40" y1="899.50" x2="1540.70" y2="899.50" stroke="#000" stroke-width="3" stroke-linecap="round"/>
<path d="M1616.2,805.8 L1620.3,813.8 L1612.1,813.8Z" fill="#000"/>
<path d="M1616.2,822.6 L1620.3,830.6 L1612.1,830.6Z" fill="#000"/>
<path d="M1616.2,837.9 L1620.3,845.9 L1612.1,845.9Z" fill="#000"/>
<path d="M1627.4,858.3 L1631.5,866.3 L1623.3,866.3Z" fill="#000"/>
<path d="M1616.2,868.5 L1620.3,876.5 L1612.1,876.5Z" fill="#000"/>
<line x1="1585.20" y1="842.30" x2="1647.10" y2="842.30" stroke="#000" stroke-width="2.5" stroke-linecap="butt"/>
<line x1="1616.20" y1="830.60" x2="1616.20" y2="853.60" stroke="#000" stroke-width="2.5" stroke-linecap="butt"/>
<line x1="1600.50" y1="830.60" x2="1631.80" y2="830.60" stroke="#000" stroke-width="3" stroke-linecap="round"/>
<line x1="1600.50" y1="853.60" x2="1631.80" y2="853.60" stroke="#000" stroke-width="3" stroke-linecap="round"/>
<path d="M1427.3,779 L1427.3,807.3 M1427.3,786 L1614,786 M1427.3,800.3 L1614,800.3 M1614,779 L1614,807.3" stroke="#000" stroke-width="2.6" stroke-linecap="round" stroke-linejoin="round" fill="none"/>
<path d="M1517.7,793.3 L1517.7,807.3" stroke="#000" stroke-width="3.6" stroke-linecap="round" stroke-linejoin="round" fill="none"/>
<text transform="translate(1516.83,783.92) scale(0.8870,1)" style="font-family:'Liberation Sans',sans-serif;font-weight:bold;font-size:15.84px" fill="#000">**</text>
<text transform="translate(1467.23,821.62) scale(0.8870,1)" style="font-family:'Liberation Sans',sans-serif;font-weight:bold;font-size:15.84px" fill="#000">**</text>
<text transform="translate(1562.83,821.62) scale(0.8870,1)" style="font-family:'Liberation Sans',sans-serif;font-weight:bold;font-size:15.84px" fill="#000">**</text>
<text transform="translate(1402.60,1070.90) scale(0.8870,1) rotate(-45)" style="font-family:'Liberation Sans',sans-serif;font-weight:bold;font-size:16.03px" fill="#000">FPN +/+</text>
<text transform="translate(1489.52,1074.37) scale(0.8870,1) rotate(-45)" style="font-family:'Liberation Sans',sans-serif;font-weight:bold;font-size:16.03px" fill="#000">FPN1 +/-</text>
<text transform="translate(1584.04,1071.52) scale(0.8870,1) rotate(-45)" style="font-family:'Liberation Sans',sans-serif;font-weight:bold;font-size:16.03px" fill="#000">FPN1 -/-</text>
</svg>
</body></html>
